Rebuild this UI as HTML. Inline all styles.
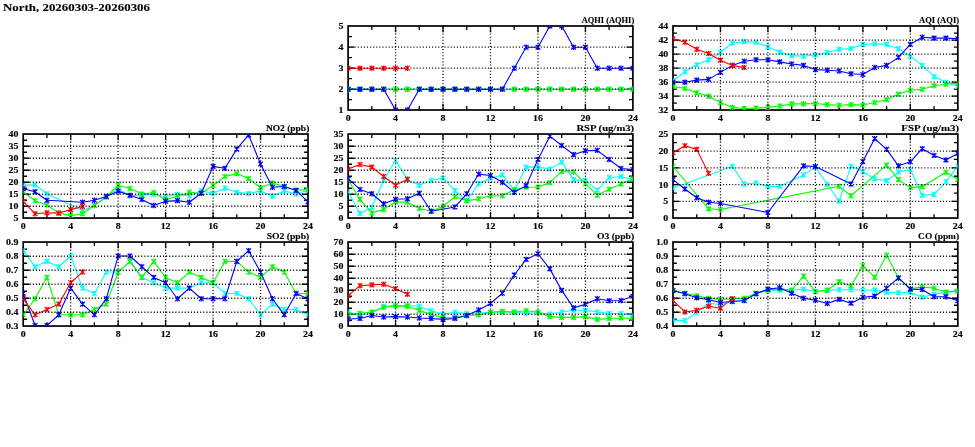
<!DOCTYPE html>
<html lang="en"><head><meta charset="utf-8"><title>North, 20260303-20260306</title>
<style>
html,body{margin:0;padding:0;background:#fff;}
body{width:975px;height:447px;overflow:hidden;}
svg{display:block;}
.tl{font-family:"Liberation Serif",serif;font-weight:bold;font-size:9.0px;fill:#000;stroke:#000;stroke-width:0.15px;letter-spacing:0px;}
.tt{font-family:"Liberation Serif",serif;font-weight:bold;font-size:9px;fill:#000;stroke:#000;stroke-width:0.12px;}
.mt{font-family:"Liberation Serif",serif;font-weight:bold;font-size:11.3px;fill:#000;stroke:#000;stroke-width:0.1px;}
.fr{fill:none;stroke:#000;stroke-width:1.7;stroke-linejoin:miter;}
.gd{fill:none;stroke:#000;stroke-width:1.3;stroke-dasharray:1.05 2.05;}
.tk{fill:none;stroke:#000;stroke-width:1.3;}
.ln{fill:none;stroke-width:1.1;stroke-linejoin:round;stroke-linecap:round;}
.mk{fill:none;stroke-width:1.25;stroke-linecap:butt;}
</style></head><body>
<svg width="975" height="447" viewBox="0 0 975 447">
<rect x="0" y="0" width="975" height="447" fill="#fff"/>
<defs>
<clipPath id="c0"><rect x="348.4" y="26.2" width="284.2" height="83.6"/></clipPath>
<clipPath id="c1"><rect x="673.3" y="26.2" width="284.2" height="83.6"/></clipPath>
<clipPath id="c2"><rect x="23.5" y="134.25" width="284.2" height="83.6"/></clipPath>
<clipPath id="c3"><rect x="348.4" y="134.25" width="284.2" height="83.6"/></clipPath>
<clipPath id="c4"><rect x="673.3" y="134.25" width="284.2" height="83.6"/></clipPath>
<clipPath id="c5"><rect x="23.5" y="242.25" width="284.2" height="83.6"/></clipPath>
<clipPath id="c6"><rect x="348.4" y="242.25" width="284.2" height="83.6"/></clipPath>
<clipPath id="c7"><rect x="673.3" y="242.25" width="284.2" height="83.6"/></clipPath>
</defs>
<text class="mt" x="3" y="10.6" textLength="147" lengthAdjust="spacingAndGlyphs">North, 20260303-20260306</text>
<g>
<path class="tk" d="M371.83 26 v3.9 M371.83 110 v-3.9 M395.57 26 v6.3 M395.57 110 v-6.3 M419.3 26 v3.9 M419.3 110 v-3.9 M443.03 26 v6.3 M443.03 110 v-6.3 M466.77 26 v3.9 M466.77 110 v-3.9 M490.5 26 v6.3 M490.5 110 v-6.3 M514.23 26 v3.9 M514.23 110 v-3.9 M537.97 26 v6.3 M537.97 110 v-6.3 M561.7 26 v3.9 M561.7 110 v-3.9 M585.43 26 v6.3 M585.43 110 v-6.3 M609.17 26 v3.9 M609.17 110 v-3.9 M348.1 99.7 h3.9 M632.9 99.7 h-3.9 M348.1 89.2 h6.3 M632.9 89.2 h-6.3 M348.1 78.7 h3.9 M632.9 78.7 h-3.9 M348.1 68.2 h6.3 M632.9 68.2 h-6.3 M348.1 57.7 h3.9 M632.9 57.7 h-3.9 M348.1 47.2 h6.3 M632.9 47.2 h-6.3 M348.1 36.7 h3.9 M632.9 36.7 h-3.9"/>
<rect class="fr" x="348.1" y="26" width="284.8" height="84"/>
<g clip-path="url(#c0)">
<polyline class="ln" stroke="#00ffff" points="348.1,89.2 359.97,89.2 371.83,89.2 383.7,89.2 395.57,89.2 407.43,89.2 419.3,89.2 431.17,89.2 443.03,89.2 454.9,89.2 466.77,89.2 478.63,89.2 490.5,89.2 502.37,89.2 514.23,89.2 526.1,89.2 537.97,89.2 549.83,89.2 561.7,89.2 573.57,89.2 585.43,89.2 597.3,89.2 609.17,89.2 621.03,89.2 632.9,89.2"/>
<path class="mk" stroke="#00ffff" d="M348.1 86.5v5.4m-2.35 -5.05l4.7 4.7m0 -4.7l-4.7 4.7M359.97 86.5v5.4m-2.35 -5.05l4.7 4.7m0 -4.7l-4.7 4.7M371.83 86.5v5.4m-2.35 -5.05l4.7 4.7m0 -4.7l-4.7 4.7M383.7 86.5v5.4m-2.35 -5.05l4.7 4.7m0 -4.7l-4.7 4.7M395.57 86.5v5.4m-2.35 -5.05l4.7 4.7m0 -4.7l-4.7 4.7M407.43 86.5v5.4m-2.35 -5.05l4.7 4.7m0 -4.7l-4.7 4.7M419.3 86.5v5.4m-2.35 -5.05l4.7 4.7m0 -4.7l-4.7 4.7M431.17 86.5v5.4m-2.35 -5.05l4.7 4.7m0 -4.7l-4.7 4.7M443.03 86.5v5.4m-2.35 -5.05l4.7 4.7m0 -4.7l-4.7 4.7M454.9 86.5v5.4m-2.35 -5.05l4.7 4.7m0 -4.7l-4.7 4.7M466.77 86.5v5.4m-2.35 -5.05l4.7 4.7m0 -4.7l-4.7 4.7M478.63 86.5v5.4m-2.35 -5.05l4.7 4.7m0 -4.7l-4.7 4.7M490.5 86.5v5.4m-2.35 -5.05l4.7 4.7m0 -4.7l-4.7 4.7M502.37 86.5v5.4m-2.35 -5.05l4.7 4.7m0 -4.7l-4.7 4.7M514.23 86.5v5.4m-2.35 -5.05l4.7 4.7m0 -4.7l-4.7 4.7M526.1 86.5v5.4m-2.35 -5.05l4.7 4.7m0 -4.7l-4.7 4.7M537.97 86.5v5.4m-2.35 -5.05l4.7 4.7m0 -4.7l-4.7 4.7M549.83 86.5v5.4m-2.35 -5.05l4.7 4.7m0 -4.7l-4.7 4.7M561.7 86.5v5.4m-2.35 -5.05l4.7 4.7m0 -4.7l-4.7 4.7M573.57 86.5v5.4m-2.35 -5.05l4.7 4.7m0 -4.7l-4.7 4.7M585.43 86.5v5.4m-2.35 -5.05l4.7 4.7m0 -4.7l-4.7 4.7M597.3 86.5v5.4m-2.35 -5.05l4.7 4.7m0 -4.7l-4.7 4.7M609.17 86.5v5.4m-2.35 -5.05l4.7 4.7m0 -4.7l-4.7 4.7M621.03 86.5v5.4m-2.35 -5.05l4.7 4.7m0 -4.7l-4.7 4.7M632.9 86.5v5.4m-2.35 -5.05l4.7 4.7m0 -4.7l-4.7 4.7"/>
<polyline class="ln" stroke="#00ff00" points="348.1,89.2 359.97,89.2 371.83,89.2 383.7,89.2 395.57,89.2 407.43,89.2 419.3,89.2 431.17,89.2 443.03,89.2 454.9,89.2 466.77,89.2 478.63,89.2 490.5,89.2 502.37,89.2 514.23,89.2 526.1,89.2 537.97,89.2 549.83,89.2 561.7,89.2 573.57,89.2 585.43,89.2 597.3,89.2 609.17,89.2 621.03,89.2 632.9,89.2"/>
<path class="mk" stroke="#00ff00" d="M348.1 86.5v5.4m-2.35 -5.05l4.7 4.7m0 -4.7l-4.7 4.7M359.97 86.5v5.4m-2.35 -5.05l4.7 4.7m0 -4.7l-4.7 4.7M371.83 86.5v5.4m-2.35 -5.05l4.7 4.7m0 -4.7l-4.7 4.7M383.7 86.5v5.4m-2.35 -5.05l4.7 4.7m0 -4.7l-4.7 4.7M395.57 86.5v5.4m-2.35 -5.05l4.7 4.7m0 -4.7l-4.7 4.7M407.43 86.5v5.4m-2.35 -5.05l4.7 4.7m0 -4.7l-4.7 4.7M419.3 86.5v5.4m-2.35 -5.05l4.7 4.7m0 -4.7l-4.7 4.7M431.17 86.5v5.4m-2.35 -5.05l4.7 4.7m0 -4.7l-4.7 4.7M443.03 86.5v5.4m-2.35 -5.05l4.7 4.7m0 -4.7l-4.7 4.7M454.9 86.5v5.4m-2.35 -5.05l4.7 4.7m0 -4.7l-4.7 4.7M466.77 86.5v5.4m-2.35 -5.05l4.7 4.7m0 -4.7l-4.7 4.7M478.63 86.5v5.4m-2.35 -5.05l4.7 4.7m0 -4.7l-4.7 4.7M490.5 86.5v5.4m-2.35 -5.05l4.7 4.7m0 -4.7l-4.7 4.7M502.37 86.5v5.4m-2.35 -5.05l4.7 4.7m0 -4.7l-4.7 4.7M514.23 86.5v5.4m-2.35 -5.05l4.7 4.7m0 -4.7l-4.7 4.7M526.1 86.5v5.4m-2.35 -5.05l4.7 4.7m0 -4.7l-4.7 4.7M537.97 86.5v5.4m-2.35 -5.05l4.7 4.7m0 -4.7l-4.7 4.7M549.83 86.5v5.4m-2.35 -5.05l4.7 4.7m0 -4.7l-4.7 4.7M561.7 86.5v5.4m-2.35 -5.05l4.7 4.7m0 -4.7l-4.7 4.7M573.57 86.5v5.4m-2.35 -5.05l4.7 4.7m0 -4.7l-4.7 4.7M585.43 86.5v5.4m-2.35 -5.05l4.7 4.7m0 -4.7l-4.7 4.7M597.3 86.5v5.4m-2.35 -5.05l4.7 4.7m0 -4.7l-4.7 4.7M609.17 86.5v5.4m-2.35 -5.05l4.7 4.7m0 -4.7l-4.7 4.7M621.03 86.5v5.4m-2.35 -5.05l4.7 4.7m0 -4.7l-4.7 4.7M632.9 86.5v5.4m-2.35 -5.05l4.7 4.7m0 -4.7l-4.7 4.7"/>
<polyline class="ln" stroke="#0000ff" points="348.1,89.2 359.97,89.2 371.83,89.2 383.7,89.2 395.57,110"/>
<polyline class="ln" stroke="#0000ff" points="407.43,110 419.3,89.2 431.17,89.2 443.03,89.2 454.9,89.2 466.77,89.2 478.63,89.2 490.5,89.2 502.37,89.2 514.23,68.2 526.1,47.2 537.97,47.2 549.83,26"/>
<polyline class="ln" stroke="#0000ff" points="561.7,26 573.57,47.2 585.43,47.2 597.3,68.2 609.17,68.2 621.03,68.2 632.9,68.2"/>
<path class="mk" stroke="#0000ff" d="M348.1 86.5v5.4m-2.35 -5.05l4.7 4.7m0 -4.7l-4.7 4.7M359.97 86.5v5.4m-2.35 -5.05l4.7 4.7m0 -4.7l-4.7 4.7M371.83 86.5v5.4m-2.35 -5.05l4.7 4.7m0 -4.7l-4.7 4.7M383.7 86.5v5.4m-2.35 -5.05l4.7 4.7m0 -4.7l-4.7 4.7M395.57 107.3v5.4m-2.35 -5.05l4.7 4.7m0 -4.7l-4.7 4.7M407.43 107.3v5.4m-2.35 -5.05l4.7 4.7m0 -4.7l-4.7 4.7M419.3 86.5v5.4m-2.35 -5.05l4.7 4.7m0 -4.7l-4.7 4.7M431.17 86.5v5.4m-2.35 -5.05l4.7 4.7m0 -4.7l-4.7 4.7M443.03 86.5v5.4m-2.35 -5.05l4.7 4.7m0 -4.7l-4.7 4.7M454.9 86.5v5.4m-2.35 -5.05l4.7 4.7m0 -4.7l-4.7 4.7M466.77 86.5v5.4m-2.35 -5.05l4.7 4.7m0 -4.7l-4.7 4.7M478.63 86.5v5.4m-2.35 -5.05l4.7 4.7m0 -4.7l-4.7 4.7M490.5 86.5v5.4m-2.35 -5.05l4.7 4.7m0 -4.7l-4.7 4.7M502.37 86.5v5.4m-2.35 -5.05l4.7 4.7m0 -4.7l-4.7 4.7M514.23 65.5v5.4m-2.35 -5.05l4.7 4.7m0 -4.7l-4.7 4.7M526.1 44.5v5.4m-2.35 -5.05l4.7 4.7m0 -4.7l-4.7 4.7M537.97 44.5v5.4m-2.35 -5.05l4.7 4.7m0 -4.7l-4.7 4.7M549.83 23.3v5.4m-2.35 -5.05l4.7 4.7m0 -4.7l-4.7 4.7M561.7 23.3v5.4m-2.35 -5.05l4.7 4.7m0 -4.7l-4.7 4.7M573.57 44.5v5.4m-2.35 -5.05l4.7 4.7m0 -4.7l-4.7 4.7M585.43 44.5v5.4m-2.35 -5.05l4.7 4.7m0 -4.7l-4.7 4.7M597.3 65.5v5.4m-2.35 -5.05l4.7 4.7m0 -4.7l-4.7 4.7M609.17 65.5v5.4m-2.35 -5.05l4.7 4.7m0 -4.7l-4.7 4.7M621.03 65.5v5.4m-2.35 -5.05l4.7 4.7m0 -4.7l-4.7 4.7M632.9 65.5v5.4m-2.35 -5.05l4.7 4.7m0 -4.7l-4.7 4.7"/>
<polyline class="ln" stroke="#ff0000" points="348.1,68.2 359.97,68.2 371.83,68.2 383.7,68.2 395.57,68.2 407.43,68.2"/>
<path class="mk" stroke="#ff0000" d="M348.1 65.5v5.4m-2.35 -5.05l4.7 4.7m0 -4.7l-4.7 4.7M359.97 65.5v5.4m-2.35 -5.05l4.7 4.7m0 -4.7l-4.7 4.7M371.83 65.5v5.4m-2.35 -5.05l4.7 4.7m0 -4.7l-4.7 4.7M383.7 65.5v5.4m-2.35 -5.05l4.7 4.7m0 -4.7l-4.7 4.7M395.57 65.5v5.4m-2.35 -5.05l4.7 4.7m0 -4.7l-4.7 4.7M407.43 65.5v5.4m-2.35 -5.05l4.7 4.7m0 -4.7l-4.7 4.7"/>
</g>
<path class="gd" stroke-dashoffset="2.8" d="M348.1 89.2 H632.9 M348.1 68.2 H632.9 M348.1 47.2 H632.9"/>
<path class="gd" stroke-dashoffset="2.075" d="M395.57 110 V26 M443.03 110 V26 M490.5 110 V26 M537.97 110 V26 M585.43 110 V26"/>
<text class="tl" text-anchor="end" transform="translate(343.4 112.95) scale(1.1 1)">1</text>
<text class="tl" text-anchor="end" transform="translate(343.4 92.15) scale(1.1 1)">2</text>
<text class="tl" text-anchor="end" transform="translate(343.4 71.15) scale(1.1 1)">3</text>
<text class="tl" text-anchor="end" transform="translate(343.4 50.15) scale(1.1 1)">4</text>
<text class="tl" text-anchor="end" transform="translate(343.4 28.95) scale(1.1 1)">5</text>
<text class="tl" text-anchor="middle" transform="translate(348.1 121.05) scale(1.1 1)">0</text>
<text class="tl" text-anchor="middle" transform="translate(395.57 121.05) scale(1.1 1)">4</text>
<text class="tl" text-anchor="middle" transform="translate(443.03 121.05) scale(1.1 1)">8</text>
<text class="tl" text-anchor="middle" transform="translate(490.5 121.05) scale(1.1 1)">12</text>
<text class="tl" text-anchor="middle" transform="translate(537.97 121.05) scale(1.1 1)">16</text>
<text class="tl" text-anchor="middle" transform="translate(585.43 121.05) scale(1.1 1)">20</text>
<text class="tl" text-anchor="middle" transform="translate(632.9 121.05) scale(1.1 1)">24</text>
<text class="tt" text-anchor="end" x="634.2" y="22.8" textLength="52.5" lengthAdjust="spacingAndGlyphs">AQHI (AQHI)</text>
</g>
<g>
<path class="tk" d="M696.73 26 v3.9 M696.73 110 v-3.9 M720.47 26 v6.3 M720.47 110 v-6.3 M744.2 26 v3.9 M744.2 110 v-3.9 M767.93 26 v6.3 M767.93 110 v-6.3 M791.67 26 v3.9 M791.67 110 v-3.9 M815.4 26 v6.3 M815.4 110 v-6.3 M839.13 26 v3.9 M839.13 110 v-3.9 M862.87 26 v6.3 M862.87 110 v-6.3 M886.6 26 v3.9 M886.6 110 v-3.9 M910.33 26 v6.3 M910.33 110 v-6.3 M934.07 26 v3.9 M934.07 110 v-3.9 M673 103.2 h3.9 M957.8 103.2 h-3.9 M673 96.2 h6.3 M957.8 96.2 h-6.3 M673 89.2 h3.9 M957.8 89.2 h-3.9 M673 82.2 h6.3 M957.8 82.2 h-6.3 M673 75.2 h3.9 M957.8 75.2 h-3.9 M673 68.2 h6.3 M957.8 68.2 h-6.3 M673 61.2 h3.9 M957.8 61.2 h-3.9 M673 54.2 h6.3 M957.8 54.2 h-6.3 M673 47.2 h3.9 M957.8 47.2 h-3.9 M673 40.2 h6.3 M957.8 40.2 h-6.3 M673 33.2 h3.9 M957.8 33.2 h-3.9"/>
<rect class="fr" x="673" y="26" width="284.8" height="84"/>
<g clip-path="url(#c1)">
<polyline class="ln" stroke="#00ffff" points="673,80.8 684.87,71.7 696.73,64.7 708.6,59.8 720.47,52.45 732.33,43 744.2,41.6 756.07,42.3 767.93,46.85 779.8,52.1 791.67,55.6 803.53,56.3 815.4,54.9 827.27,52.45 839.13,49.3 851,48.6 862.87,44.4 874.73,43.7 886.6,44.4 898.47,48.6 910.33,56.3 922.2,65.4 934.07,76.6 945.93,82.2 957.8,86.4"/>
<path class="mk" stroke="#00ffff" d="M673 78.1v5.4m-2.35 -5.05l4.7 4.7m0 -4.7l-4.7 4.7M684.87 69v5.4m-2.35 -5.05l4.7 4.7m0 -4.7l-4.7 4.7M696.73 62v5.4m-2.35 -5.05l4.7 4.7m0 -4.7l-4.7 4.7M708.6 57.1v5.4m-2.35 -5.05l4.7 4.7m0 -4.7l-4.7 4.7M720.47 49.75v5.4m-2.35 -5.05l4.7 4.7m0 -4.7l-4.7 4.7M732.33 40.3v5.4m-2.35 -5.05l4.7 4.7m0 -4.7l-4.7 4.7M744.2 38.9v5.4m-2.35 -5.05l4.7 4.7m0 -4.7l-4.7 4.7M756.07 39.6v5.4m-2.35 -5.05l4.7 4.7m0 -4.7l-4.7 4.7M767.93 44.15v5.4m-2.35 -5.05l4.7 4.7m0 -4.7l-4.7 4.7M779.8 49.4v5.4m-2.35 -5.05l4.7 4.7m0 -4.7l-4.7 4.7M791.67 52.9v5.4m-2.35 -5.05l4.7 4.7m0 -4.7l-4.7 4.7M803.53 53.6v5.4m-2.35 -5.05l4.7 4.7m0 -4.7l-4.7 4.7M815.4 52.2v5.4m-2.35 -5.05l4.7 4.7m0 -4.7l-4.7 4.7M827.27 49.75v5.4m-2.35 -5.05l4.7 4.7m0 -4.7l-4.7 4.7M839.13 46.6v5.4m-2.35 -5.05l4.7 4.7m0 -4.7l-4.7 4.7M851 45.9v5.4m-2.35 -5.05l4.7 4.7m0 -4.7l-4.7 4.7M862.87 41.7v5.4m-2.35 -5.05l4.7 4.7m0 -4.7l-4.7 4.7M874.73 41v5.4m-2.35 -5.05l4.7 4.7m0 -4.7l-4.7 4.7M886.6 41.7v5.4m-2.35 -5.05l4.7 4.7m0 -4.7l-4.7 4.7M898.47 45.9v5.4m-2.35 -5.05l4.7 4.7m0 -4.7l-4.7 4.7M910.33 53.6v5.4m-2.35 -5.05l4.7 4.7m0 -4.7l-4.7 4.7M922.2 62.7v5.4m-2.35 -5.05l4.7 4.7m0 -4.7l-4.7 4.7M934.07 73.9v5.4m-2.35 -5.05l4.7 4.7m0 -4.7l-4.7 4.7M945.93 79.5v5.4m-2.35 -5.05l4.7 4.7m0 -4.7l-4.7 4.7M957.8 83.7v5.4m-2.35 -5.05l4.7 4.7m0 -4.7l-4.7 4.7"/>
<polyline class="ln" stroke="#00ff00" points="673,86.4 684.87,88.5 696.73,92.7 708.6,96.2 720.47,102.5 732.33,107.4 744.2,108.45 756.07,108.1 767.93,107.4 779.8,106 791.67,103.9 803.53,103.9 815.4,103.55 827.27,104.6 839.13,105.3 851,104.6 862.87,104.95 874.73,102.5 886.6,99.7 898.47,94.1 910.33,90.25 922.2,89.2 934.07,85.7 945.93,84.3 957.8,83.25"/>
<path class="mk" stroke="#00ff00" d="M673 83.7v5.4m-2.35 -5.05l4.7 4.7m0 -4.7l-4.7 4.7M684.87 85.8v5.4m-2.35 -5.05l4.7 4.7m0 -4.7l-4.7 4.7M696.73 90v5.4m-2.35 -5.05l4.7 4.7m0 -4.7l-4.7 4.7M708.6 93.5v5.4m-2.35 -5.05l4.7 4.7m0 -4.7l-4.7 4.7M720.47 99.8v5.4m-2.35 -5.05l4.7 4.7m0 -4.7l-4.7 4.7M732.33 104.7v5.4m-2.35 -5.05l4.7 4.7m0 -4.7l-4.7 4.7M744.2 105.75v5.4m-2.35 -5.05l4.7 4.7m0 -4.7l-4.7 4.7M756.07 105.4v5.4m-2.35 -5.05l4.7 4.7m0 -4.7l-4.7 4.7M767.93 104.7v5.4m-2.35 -5.05l4.7 4.7m0 -4.7l-4.7 4.7M779.8 103.3v5.4m-2.35 -5.05l4.7 4.7m0 -4.7l-4.7 4.7M791.67 101.2v5.4m-2.35 -5.05l4.7 4.7m0 -4.7l-4.7 4.7M803.53 101.2v5.4m-2.35 -5.05l4.7 4.7m0 -4.7l-4.7 4.7M815.4 100.85v5.4m-2.35 -5.05l4.7 4.7m0 -4.7l-4.7 4.7M827.27 101.9v5.4m-2.35 -5.05l4.7 4.7m0 -4.7l-4.7 4.7M839.13 102.6v5.4m-2.35 -5.05l4.7 4.7m0 -4.7l-4.7 4.7M851 101.9v5.4m-2.35 -5.05l4.7 4.7m0 -4.7l-4.7 4.7M862.87 102.25v5.4m-2.35 -5.05l4.7 4.7m0 -4.7l-4.7 4.7M874.73 99.8v5.4m-2.35 -5.05l4.7 4.7m0 -4.7l-4.7 4.7M886.6 97v5.4m-2.35 -5.05l4.7 4.7m0 -4.7l-4.7 4.7M898.47 91.4v5.4m-2.35 -5.05l4.7 4.7m0 -4.7l-4.7 4.7M910.33 87.55v5.4m-2.35 -5.05l4.7 4.7m0 -4.7l-4.7 4.7M922.2 86.5v5.4m-2.35 -5.05l4.7 4.7m0 -4.7l-4.7 4.7M934.07 83v5.4m-2.35 -5.05l4.7 4.7m0 -4.7l-4.7 4.7M945.93 81.6v5.4m-2.35 -5.05l4.7 4.7m0 -4.7l-4.7 4.7M957.8 80.55v5.4m-2.35 -5.05l4.7 4.7m0 -4.7l-4.7 4.7"/>
<polyline class="ln" stroke="#0000ff" points="673,82.2 684.87,82.2 696.73,80.1 708.6,79.4 720.47,72.4 732.33,65.4 744.2,61.2 756.07,59.8 767.93,59.8 779.8,61.9 791.67,64 803.53,65.4 815.4,69.6 827.27,70.3 839.13,71 851,73.8 862.87,74.5 874.73,67.5 886.6,65.4 898.47,57.35 910.33,44.4 922.2,37.26 934.07,38.1 945.93,38.1 957.8,38.8"/>
<path class="mk" stroke="#0000ff" d="M673 79.5v5.4m-2.35 -5.05l4.7 4.7m0 -4.7l-4.7 4.7M684.87 79.5v5.4m-2.35 -5.05l4.7 4.7m0 -4.7l-4.7 4.7M696.73 77.4v5.4m-2.35 -5.05l4.7 4.7m0 -4.7l-4.7 4.7M708.6 76.7v5.4m-2.35 -5.05l4.7 4.7m0 -4.7l-4.7 4.7M720.47 69.7v5.4m-2.35 -5.05l4.7 4.7m0 -4.7l-4.7 4.7M732.33 62.7v5.4m-2.35 -5.05l4.7 4.7m0 -4.7l-4.7 4.7M744.2 58.5v5.4m-2.35 -5.05l4.7 4.7m0 -4.7l-4.7 4.7M756.07 57.1v5.4m-2.35 -5.05l4.7 4.7m0 -4.7l-4.7 4.7M767.93 57.1v5.4m-2.35 -5.05l4.7 4.7m0 -4.7l-4.7 4.7M779.8 59.2v5.4m-2.35 -5.05l4.7 4.7m0 -4.7l-4.7 4.7M791.67 61.3v5.4m-2.35 -5.05l4.7 4.7m0 -4.7l-4.7 4.7M803.53 62.7v5.4m-2.35 -5.05l4.7 4.7m0 -4.7l-4.7 4.7M815.4 66.9v5.4m-2.35 -5.05l4.7 4.7m0 -4.7l-4.7 4.7M827.27 67.6v5.4m-2.35 -5.05l4.7 4.7m0 -4.7l-4.7 4.7M839.13 68.3v5.4m-2.35 -5.05l4.7 4.7m0 -4.7l-4.7 4.7M851 71.1v5.4m-2.35 -5.05l4.7 4.7m0 -4.7l-4.7 4.7M862.87 71.8v5.4m-2.35 -5.05l4.7 4.7m0 -4.7l-4.7 4.7M874.73 64.8v5.4m-2.35 -5.05l4.7 4.7m0 -4.7l-4.7 4.7M886.6 62.7v5.4m-2.35 -5.05l4.7 4.7m0 -4.7l-4.7 4.7M898.47 54.65v5.4m-2.35 -5.05l4.7 4.7m0 -4.7l-4.7 4.7M910.33 41.7v5.4m-2.35 -5.05l4.7 4.7m0 -4.7l-4.7 4.7M922.2 34.56v5.4m-2.35 -5.05l4.7 4.7m0 -4.7l-4.7 4.7M934.07 35.4v5.4m-2.35 -5.05l4.7 4.7m0 -4.7l-4.7 4.7M945.93 35.4v5.4m-2.35 -5.05l4.7 4.7m0 -4.7l-4.7 4.7M957.8 36.1v5.4m-2.35 -5.05l4.7 4.7m0 -4.7l-4.7 4.7"/>
<polyline class="ln" stroke="#ff0000" points="673,38.8 684.87,42.3 696.73,49.3 708.6,53.5 720.47,60.15 732.33,65.4 744.2,67.5"/>
<path class="mk" stroke="#ff0000" d="M673 36.1v5.4m-2.35 -5.05l4.7 4.7m0 -4.7l-4.7 4.7M684.87 39.6v5.4m-2.35 -5.05l4.7 4.7m0 -4.7l-4.7 4.7M696.73 46.6v5.4m-2.35 -5.05l4.7 4.7m0 -4.7l-4.7 4.7M708.6 50.8v5.4m-2.35 -5.05l4.7 4.7m0 -4.7l-4.7 4.7M720.47 57.45v5.4m-2.35 -5.05l4.7 4.7m0 -4.7l-4.7 4.7M732.33 62.7v5.4m-2.35 -5.05l4.7 4.7m0 -4.7l-4.7 4.7M744.2 64.8v5.4m-2.35 -5.05l4.7 4.7m0 -4.7l-4.7 4.7"/>
</g>
<path class="gd" stroke-dashoffset="2.8" d="M673 96.2 H957.8 M673 82.2 H957.8 M673 68.2 H957.8 M673 54.2 H957.8 M673 40.2 H957.8"/>
<path class="gd" stroke-dashoffset="2.075" d="M720.47 110 V26 M767.93 110 V26 M815.4 110 V26 M862.87 110 V26 M910.33 110 V26"/>
<text class="tl" text-anchor="end" transform="translate(668.3 112.95) scale(1.1 1)">32</text>
<text class="tl" text-anchor="end" transform="translate(668.3 99.15) scale(1.1 1)">34</text>
<text class="tl" text-anchor="end" transform="translate(668.3 85.15) scale(1.1 1)">36</text>
<text class="tl" text-anchor="end" transform="translate(668.3 71.15) scale(1.1 1)">38</text>
<text class="tl" text-anchor="end" transform="translate(668.3 57.15) scale(1.1 1)">40</text>
<text class="tl" text-anchor="end" transform="translate(668.3 43.15) scale(1.1 1)">42</text>
<text class="tl" text-anchor="end" transform="translate(668.3 28.95) scale(1.1 1)">44</text>
<text class="tl" text-anchor="middle" transform="translate(673 121.05) scale(1.1 1)">0</text>
<text class="tl" text-anchor="middle" transform="translate(720.47 121.05) scale(1.1 1)">4</text>
<text class="tl" text-anchor="middle" transform="translate(767.93 121.05) scale(1.1 1)">8</text>
<text class="tl" text-anchor="middle" transform="translate(815.4 121.05) scale(1.1 1)">12</text>
<text class="tl" text-anchor="middle" transform="translate(862.87 121.05) scale(1.1 1)">16</text>
<text class="tl" text-anchor="middle" transform="translate(910.33 121.05) scale(1.1 1)">20</text>
<text class="tl" text-anchor="middle" transform="translate(957.8 121.05) scale(1.1 1)">24</text>
<text class="tt" text-anchor="end" x="959.1" y="22.8" textLength="40.1" lengthAdjust="spacingAndGlyphs">AQI (AQI)</text>
</g>
<g>
<path class="tk" d="M46.93 134.05 v3.9 M46.93 218.05 v-3.9 M70.67 134.05 v6.3 M70.67 218.05 v-6.3 M94.4 134.05 v3.9 M94.4 218.05 v-3.9 M118.13 134.05 v6.3 M118.13 218.05 v-6.3 M141.87 134.05 v3.9 M141.87 218.05 v-3.9 M165.6 134.05 v6.3 M165.6 218.05 v-6.3 M189.33 134.05 v3.9 M189.33 218.05 v-3.9 M213.07 134.05 v6.3 M213.07 218.05 v-6.3 M236.8 134.05 v3.9 M236.8 218.05 v-3.9 M260.53 134.05 v6.3 M260.53 218.05 v-6.3 M284.27 134.05 v3.9 M284.27 218.05 v-3.9 M23.2 212.25 h3.9 M308 212.25 h-3.9 M23.2 206.25 h6.3 M308 206.25 h-6.3 M23.2 200.25 h3.9 M308 200.25 h-3.9 M23.2 194.25 h6.3 M308 194.25 h-6.3 M23.2 188.25 h3.9 M308 188.25 h-3.9 M23.2 182.25 h6.3 M308 182.25 h-6.3 M23.2 176.25 h3.9 M308 176.25 h-3.9 M23.2 170.25 h6.3 M308 170.25 h-6.3 M23.2 164.25 h3.9 M308 164.25 h-3.9 M23.2 158.25 h6.3 M308 158.25 h-6.3 M23.2 152.25 h3.9 M308 152.25 h-3.9 M23.2 146.25 h6.3 M308 146.25 h-6.3 M23.2 140.25 h3.9 M308 140.25 h-3.9"/>
<rect class="fr" x="23.2" y="134.05" width="284.8" height="84"/>
<g clip-path="url(#c2)">
<polyline class="ln" stroke="#00ffff" points="23.2,185.37 35.07,184.89 46.93,193.77 82.53,210.81 94.4,205.53 106.27,197.01 118.13,188.73 130,196.05 141.87,194.61 153.73,194.49 165.6,196.53 177.47,194.37 189.33,195.81 201.2,190.89 213.07,193.29 224.93,188.25 236.8,192.33 248.67,193.53 260.53,190.89 272.4,195.93 284.27,190.89 296.13,194.01 308,190.17"/>
<path class="mk" stroke="#00ffff" d="M23.2 182.67v5.4m-2.35 -5.05l4.7 4.7m0 -4.7l-4.7 4.7M35.07 182.19v5.4m-2.35 -5.05l4.7 4.7m0 -4.7l-4.7 4.7M46.93 191.07v5.4m-2.35 -5.05l4.7 4.7m0 -4.7l-4.7 4.7M82.53 208.11v5.4m-2.35 -5.05l4.7 4.7m0 -4.7l-4.7 4.7M94.4 202.83v5.4m-2.35 -5.05l4.7 4.7m0 -4.7l-4.7 4.7M106.27 194.31v5.4m-2.35 -5.05l4.7 4.7m0 -4.7l-4.7 4.7M118.13 186.03v5.4m-2.35 -5.05l4.7 4.7m0 -4.7l-4.7 4.7M130 193.35v5.4m-2.35 -5.05l4.7 4.7m0 -4.7l-4.7 4.7M141.87 191.91v5.4m-2.35 -5.05l4.7 4.7m0 -4.7l-4.7 4.7M153.73 191.79v5.4m-2.35 -5.05l4.7 4.7m0 -4.7l-4.7 4.7M165.6 193.83v5.4m-2.35 -5.05l4.7 4.7m0 -4.7l-4.7 4.7M177.47 191.67v5.4m-2.35 -5.05l4.7 4.7m0 -4.7l-4.7 4.7M189.33 193.11v5.4m-2.35 -5.05l4.7 4.7m0 -4.7l-4.7 4.7M201.2 188.19v5.4m-2.35 -5.05l4.7 4.7m0 -4.7l-4.7 4.7M213.07 190.59v5.4m-2.35 -5.05l4.7 4.7m0 -4.7l-4.7 4.7M224.93 185.55v5.4m-2.35 -5.05l4.7 4.7m0 -4.7l-4.7 4.7M236.8 189.63v5.4m-2.35 -5.05l4.7 4.7m0 -4.7l-4.7 4.7M248.67 190.83v5.4m-2.35 -5.05l4.7 4.7m0 -4.7l-4.7 4.7M260.53 188.19v5.4m-2.35 -5.05l4.7 4.7m0 -4.7l-4.7 4.7M272.4 193.23v5.4m-2.35 -5.05l4.7 4.7m0 -4.7l-4.7 4.7M284.27 188.19v5.4m-2.35 -5.05l4.7 4.7m0 -4.7l-4.7 4.7M296.13 191.31v5.4m-2.35 -5.05l4.7 4.7m0 -4.7l-4.7 4.7M308 187.47v5.4m-2.35 -5.05l4.7 4.7m0 -4.7l-4.7 4.7"/>
<polyline class="ln" stroke="#00ff00" points="23.2,191.85 35.07,200.73 46.93,205.05 58.8,213.09 70.67,215.61 82.53,213.81 94.4,205.29 106.27,197.13 118.13,185.25 130,188.49 141.87,194.01 153.73,192.57 165.6,199.77 177.47,196.17 189.33,192.21 201.2,193.29 213.07,185.61 224.93,176.49 236.8,173.61 248.67,178.65 260.53,187.77 272.4,182.97 284.27,186.57 296.13,190.17 308,189.45"/>
<path class="mk" stroke="#00ff00" d="M23.2 189.15v5.4m-2.35 -5.05l4.7 4.7m0 -4.7l-4.7 4.7M35.07 198.03v5.4m-2.35 -5.05l4.7 4.7m0 -4.7l-4.7 4.7M46.93 202.35v5.4m-2.35 -5.05l4.7 4.7m0 -4.7l-4.7 4.7M58.8 210.39v5.4m-2.35 -5.05l4.7 4.7m0 -4.7l-4.7 4.7M70.67 212.91v5.4m-2.35 -5.05l4.7 4.7m0 -4.7l-4.7 4.7M82.53 211.11v5.4m-2.35 -5.05l4.7 4.7m0 -4.7l-4.7 4.7M94.4 202.59v5.4m-2.35 -5.05l4.7 4.7m0 -4.7l-4.7 4.7M106.27 194.43v5.4m-2.35 -5.05l4.7 4.7m0 -4.7l-4.7 4.7M118.13 182.55v5.4m-2.35 -5.05l4.7 4.7m0 -4.7l-4.7 4.7M130 185.79v5.4m-2.35 -5.05l4.7 4.7m0 -4.7l-4.7 4.7M141.87 191.31v5.4m-2.35 -5.05l4.7 4.7m0 -4.7l-4.7 4.7M153.73 189.87v5.4m-2.35 -5.05l4.7 4.7m0 -4.7l-4.7 4.7M165.6 197.07v5.4m-2.35 -5.05l4.7 4.7m0 -4.7l-4.7 4.7M177.47 193.47v5.4m-2.35 -5.05l4.7 4.7m0 -4.7l-4.7 4.7M189.33 189.51v5.4m-2.35 -5.05l4.7 4.7m0 -4.7l-4.7 4.7M201.2 190.59v5.4m-2.35 -5.05l4.7 4.7m0 -4.7l-4.7 4.7M213.07 182.91v5.4m-2.35 -5.05l4.7 4.7m0 -4.7l-4.7 4.7M224.93 173.79v5.4m-2.35 -5.05l4.7 4.7m0 -4.7l-4.7 4.7M236.8 170.91v5.4m-2.35 -5.05l4.7 4.7m0 -4.7l-4.7 4.7M248.67 175.95v5.4m-2.35 -5.05l4.7 4.7m0 -4.7l-4.7 4.7M260.53 185.07v5.4m-2.35 -5.05l4.7 4.7m0 -4.7l-4.7 4.7M272.4 180.27v5.4m-2.35 -5.05l4.7 4.7m0 -4.7l-4.7 4.7M284.27 183.87v5.4m-2.35 -5.05l4.7 4.7m0 -4.7l-4.7 4.7M296.13 187.47v5.4m-2.35 -5.05l4.7 4.7m0 -4.7l-4.7 4.7M308 186.75v5.4m-2.35 -5.05l4.7 4.7m0 -4.7l-4.7 4.7"/>
<polyline class="ln" stroke="#0000ff" points="23.2,188.73 35.07,191.73 46.93,200.25 82.53,202.29 94.4,200.25 106.27,196.41 118.13,191.13 130,195.33 141.87,199.53 153.73,205.53 165.6,201.33 177.47,200.61 189.33,202.29 201.2,193.29 213.07,166.41 224.93,168.33 236.8,149.13 248.67,134.97 260.53,164.01 272.4,187.29 284.27,186.57 296.13,190.41 308,201.93"/>
<path class="mk" stroke="#0000ff" d="M23.2 186.03v5.4m-2.35 -5.05l4.7 4.7m0 -4.7l-4.7 4.7M35.07 189.03v5.4m-2.35 -5.05l4.7 4.7m0 -4.7l-4.7 4.7M46.93 197.55v5.4m-2.35 -5.05l4.7 4.7m0 -4.7l-4.7 4.7M82.53 199.59v5.4m-2.35 -5.05l4.7 4.7m0 -4.7l-4.7 4.7M94.4 197.55v5.4m-2.35 -5.05l4.7 4.7m0 -4.7l-4.7 4.7M106.27 193.71v5.4m-2.35 -5.05l4.7 4.7m0 -4.7l-4.7 4.7M118.13 188.43v5.4m-2.35 -5.05l4.7 4.7m0 -4.7l-4.7 4.7M130 192.63v5.4m-2.35 -5.05l4.7 4.7m0 -4.7l-4.7 4.7M141.87 196.83v5.4m-2.35 -5.05l4.7 4.7m0 -4.7l-4.7 4.7M153.73 202.83v5.4m-2.35 -5.05l4.7 4.7m0 -4.7l-4.7 4.7M165.6 198.63v5.4m-2.35 -5.05l4.7 4.7m0 -4.7l-4.7 4.7M177.47 197.91v5.4m-2.35 -5.05l4.7 4.7m0 -4.7l-4.7 4.7M189.33 199.59v5.4m-2.35 -5.05l4.7 4.7m0 -4.7l-4.7 4.7M201.2 190.59v5.4m-2.35 -5.05l4.7 4.7m0 -4.7l-4.7 4.7M213.07 163.71v5.4m-2.35 -5.05l4.7 4.7m0 -4.7l-4.7 4.7M224.93 165.63v5.4m-2.35 -5.05l4.7 4.7m0 -4.7l-4.7 4.7M236.8 146.43v5.4m-2.35 -5.05l4.7 4.7m0 -4.7l-4.7 4.7M248.67 132.27v5.4m-2.35 -5.05l4.7 4.7m0 -4.7l-4.7 4.7M260.53 161.31v5.4m-2.35 -5.05l4.7 4.7m0 -4.7l-4.7 4.7M272.4 184.59v5.4m-2.35 -5.05l4.7 4.7m0 -4.7l-4.7 4.7M284.27 183.87v5.4m-2.35 -5.05l4.7 4.7m0 -4.7l-4.7 4.7M296.13 187.71v5.4m-2.35 -5.05l4.7 4.7m0 -4.7l-4.7 4.7M308 199.23v5.4m-2.35 -5.05l4.7 4.7m0 -4.7l-4.7 4.7"/>
<polyline class="ln" stroke="#ff0000" points="23.2,201.45 35.07,213.81 46.93,212.73 58.8,213.09 70.67,209.61 82.53,206.49"/>
<path class="mk" stroke="#ff0000" d="M23.2 198.75v5.4m-2.35 -5.05l4.7 4.7m0 -4.7l-4.7 4.7M35.07 211.11v5.4m-2.35 -5.05l4.7 4.7m0 -4.7l-4.7 4.7M46.93 210.03v5.4m-2.35 -5.05l4.7 4.7m0 -4.7l-4.7 4.7M58.8 210.39v5.4m-2.35 -5.05l4.7 4.7m0 -4.7l-4.7 4.7M70.67 206.91v5.4m-2.35 -5.05l4.7 4.7m0 -4.7l-4.7 4.7M82.53 203.79v5.4m-2.35 -5.05l4.7 4.7m0 -4.7l-4.7 4.7"/>
</g>
<path class="gd" stroke-dashoffset="2.8" d="M23.2 206.25 H308 M23.2 194.25 H308 M23.2 182.25 H308 M23.2 170.25 H308 M23.2 158.25 H308 M23.2 146.25 H308"/>
<path class="gd" stroke-dashoffset="2.075" d="M70.67 218.05 V134.05 M118.13 218.05 V134.05 M165.6 218.05 V134.05 M213.07 218.05 V134.05 M260.53 218.05 V134.05"/>
<text class="tl" text-anchor="end" transform="translate(18.5 221) scale(1.1 1)">5</text>
<text class="tl" text-anchor="end" transform="translate(18.5 209.2) scale(1.1 1)">10</text>
<text class="tl" text-anchor="end" transform="translate(18.5 197.2) scale(1.1 1)">15</text>
<text class="tl" text-anchor="end" transform="translate(18.5 185.2) scale(1.1 1)">20</text>
<text class="tl" text-anchor="end" transform="translate(18.5 173.2) scale(1.1 1)">25</text>
<text class="tl" text-anchor="end" transform="translate(18.5 161.2) scale(1.1 1)">30</text>
<text class="tl" text-anchor="end" transform="translate(18.5 149.2) scale(1.1 1)">35</text>
<text class="tl" text-anchor="end" transform="translate(18.5 137) scale(1.1 1)">40</text>
<text class="tl" text-anchor="middle" transform="translate(23.2 229.1) scale(1.1 1)">0</text>
<text class="tl" text-anchor="middle" transform="translate(70.67 229.1) scale(1.1 1)">4</text>
<text class="tl" text-anchor="middle" transform="translate(118.13 229.1) scale(1.1 1)">8</text>
<text class="tl" text-anchor="middle" transform="translate(165.6 229.1) scale(1.1 1)">12</text>
<text class="tl" text-anchor="middle" transform="translate(213.07 229.1) scale(1.1 1)">16</text>
<text class="tl" text-anchor="middle" transform="translate(260.53 229.1) scale(1.1 1)">20</text>
<text class="tl" text-anchor="middle" transform="translate(308 229.1) scale(1.1 1)">24</text>
<text class="tt" text-anchor="end" x="309.3" y="130.85" textLength="43.4" lengthAdjust="spacingAndGlyphs">NO2 (ppb)</text>
</g>
<g>
<path class="tk" d="M371.83 134.05 v3.9 M371.83 218.05 v-3.9 M395.57 134.05 v6.3 M395.57 218.05 v-6.3 M419.3 134.05 v3.9 M419.3 218.05 v-3.9 M443.03 134.05 v6.3 M443.03 218.05 v-6.3 M466.77 134.05 v3.9 M466.77 218.05 v-3.9 M490.5 134.05 v6.3 M490.5 218.05 v-6.3 M514.23 134.05 v3.9 M514.23 218.05 v-3.9 M537.97 134.05 v6.3 M537.97 218.05 v-6.3 M561.7 134.05 v3.9 M561.7 218.05 v-3.9 M585.43 134.05 v6.3 M585.43 218.05 v-6.3 M609.17 134.05 v3.9 M609.17 218.05 v-3.9 M348.1 212.25 h3.9 M632.9 212.25 h-3.9 M348.1 206.25 h6.3 M632.9 206.25 h-6.3 M348.1 200.25 h3.9 M632.9 200.25 h-3.9 M348.1 194.25 h6.3 M632.9 194.25 h-6.3 M348.1 188.25 h3.9 M632.9 188.25 h-3.9 M348.1 182.25 h6.3 M632.9 182.25 h-6.3 M348.1 176.25 h3.9 M632.9 176.25 h-3.9 M348.1 170.25 h6.3 M632.9 170.25 h-6.3 M348.1 164.25 h3.9 M632.9 164.25 h-3.9 M348.1 158.25 h6.3 M632.9 158.25 h-6.3 M348.1 152.25 h3.9 M632.9 152.25 h-3.9 M348.1 146.25 h6.3 M632.9 146.25 h-6.3 M348.1 140.25 h3.9 M632.9 140.25 h-3.9"/>
<rect class="fr" x="348.1" y="134.05" width="284.8" height="84"/>
<g clip-path="url(#c3)">
<polyline class="ln" stroke="#00ffff" points="348.1,191.73 359.97,213.45 371.83,207.45 383.7,180.09 395.57,160.41 407.43,179.61 419.3,185.25 431.17,180.57 443.03,177.93 454.9,190.65 466.77,200.73 478.63,183.69 490.5,178.17 502.37,174.93 514.23,190.17 526.1,167.13 537.97,167.13 549.83,169.05 561.7,161.85 573.57,179.61 585.43,180.57 597.3,190.17 609.17,177.45 621.03,176.49 632.9,179.61"/>
<path class="mk" stroke="#00ffff" d="M348.1 189.03v5.4m-2.35 -5.05l4.7 4.7m0 -4.7l-4.7 4.7M359.97 210.75v5.4m-2.35 -5.05l4.7 4.7m0 -4.7l-4.7 4.7M371.83 204.75v5.4m-2.35 -5.05l4.7 4.7m0 -4.7l-4.7 4.7M383.7 177.39v5.4m-2.35 -5.05l4.7 4.7m0 -4.7l-4.7 4.7M395.57 157.71v5.4m-2.35 -5.05l4.7 4.7m0 -4.7l-4.7 4.7M407.43 176.91v5.4m-2.35 -5.05l4.7 4.7m0 -4.7l-4.7 4.7M419.3 182.55v5.4m-2.35 -5.05l4.7 4.7m0 -4.7l-4.7 4.7M431.17 177.87v5.4m-2.35 -5.05l4.7 4.7m0 -4.7l-4.7 4.7M443.03 175.23v5.4m-2.35 -5.05l4.7 4.7m0 -4.7l-4.7 4.7M454.9 187.95v5.4m-2.35 -5.05l4.7 4.7m0 -4.7l-4.7 4.7M466.77 198.03v5.4m-2.35 -5.05l4.7 4.7m0 -4.7l-4.7 4.7M478.63 180.99v5.4m-2.35 -5.05l4.7 4.7m0 -4.7l-4.7 4.7M490.5 175.47v5.4m-2.35 -5.05l4.7 4.7m0 -4.7l-4.7 4.7M502.37 172.23v5.4m-2.35 -5.05l4.7 4.7m0 -4.7l-4.7 4.7M514.23 187.47v5.4m-2.35 -5.05l4.7 4.7m0 -4.7l-4.7 4.7M526.1 164.43v5.4m-2.35 -5.05l4.7 4.7m0 -4.7l-4.7 4.7M537.97 164.43v5.4m-2.35 -5.05l4.7 4.7m0 -4.7l-4.7 4.7M549.83 166.35v5.4m-2.35 -5.05l4.7 4.7m0 -4.7l-4.7 4.7M561.7 159.15v5.4m-2.35 -5.05l4.7 4.7m0 -4.7l-4.7 4.7M573.57 176.91v5.4m-2.35 -5.05l4.7 4.7m0 -4.7l-4.7 4.7M585.43 177.87v5.4m-2.35 -5.05l4.7 4.7m0 -4.7l-4.7 4.7M597.3 187.47v5.4m-2.35 -5.05l4.7 4.7m0 -4.7l-4.7 4.7M609.17 174.75v5.4m-2.35 -5.05l4.7 4.7m0 -4.7l-4.7 4.7M621.03 173.79v5.4m-2.35 -5.05l4.7 4.7m0 -4.7l-4.7 4.7M632.9 176.91v5.4m-2.35 -5.05l4.7 4.7m0 -4.7l-4.7 4.7"/>
<polyline class="ln" stroke="#00ff00" points="348.1,179.61 359.97,199.41 371.83,212.97 383.7,209.37 395.57,201.93 407.43,202.17 419.3,208.53 431.17,211.29 443.03,206.49 454.9,196.77 466.77,200.85 478.63,198.81 490.5,195.81 502.37,195.69 514.23,189.69 526.1,187.29 537.97,187.05 549.83,182.61 561.7,171.45 573.57,171.93 585.43,183.69 597.3,195.21 609.17,189.21 621.03,184.05 632.9,178.65"/>
<path class="mk" stroke="#00ff00" d="M348.1 176.91v5.4m-2.35 -5.05l4.7 4.7m0 -4.7l-4.7 4.7M359.97 196.71v5.4m-2.35 -5.05l4.7 4.7m0 -4.7l-4.7 4.7M371.83 210.27v5.4m-2.35 -5.05l4.7 4.7m0 -4.7l-4.7 4.7M383.7 206.67v5.4m-2.35 -5.05l4.7 4.7m0 -4.7l-4.7 4.7M395.57 199.23v5.4m-2.35 -5.05l4.7 4.7m0 -4.7l-4.7 4.7M407.43 199.47v5.4m-2.35 -5.05l4.7 4.7m0 -4.7l-4.7 4.7M419.3 205.83v5.4m-2.35 -5.05l4.7 4.7m0 -4.7l-4.7 4.7M431.17 208.59v5.4m-2.35 -5.05l4.7 4.7m0 -4.7l-4.7 4.7M443.03 203.79v5.4m-2.35 -5.05l4.7 4.7m0 -4.7l-4.7 4.7M454.9 194.07v5.4m-2.35 -5.05l4.7 4.7m0 -4.7l-4.7 4.7M466.77 198.15v5.4m-2.35 -5.05l4.7 4.7m0 -4.7l-4.7 4.7M478.63 196.11v5.4m-2.35 -5.05l4.7 4.7m0 -4.7l-4.7 4.7M490.5 193.11v5.4m-2.35 -5.05l4.7 4.7m0 -4.7l-4.7 4.7M502.37 192.99v5.4m-2.35 -5.05l4.7 4.7m0 -4.7l-4.7 4.7M514.23 186.99v5.4m-2.35 -5.05l4.7 4.7m0 -4.7l-4.7 4.7M526.1 184.59v5.4m-2.35 -5.05l4.7 4.7m0 -4.7l-4.7 4.7M537.97 184.35v5.4m-2.35 -5.05l4.7 4.7m0 -4.7l-4.7 4.7M549.83 179.91v5.4m-2.35 -5.05l4.7 4.7m0 -4.7l-4.7 4.7M561.7 168.75v5.4m-2.35 -5.05l4.7 4.7m0 -4.7l-4.7 4.7M573.57 169.23v5.4m-2.35 -5.05l4.7 4.7m0 -4.7l-4.7 4.7M585.43 180.99v5.4m-2.35 -5.05l4.7 4.7m0 -4.7l-4.7 4.7M597.3 192.51v5.4m-2.35 -5.05l4.7 4.7m0 -4.7l-4.7 4.7M609.17 186.51v5.4m-2.35 -5.05l4.7 4.7m0 -4.7l-4.7 4.7M621.03 181.35v5.4m-2.35 -5.05l4.7 4.7m0 -4.7l-4.7 4.7M632.9 175.95v5.4m-2.35 -5.05l4.7 4.7m0 -4.7l-4.7 4.7"/>
<polyline class="ln" stroke="#0000ff" points="348.1,178.65 359.97,189.45 371.83,193.77 383.7,203.73 395.57,199.29 407.43,198.81 419.3,193.29 431.17,211.29 454.9,206.97 466.77,193.77 478.63,174.09 490.5,175.53 502.37,182.25 514.23,192.33 526.1,185.61 537.97,159.45 549.83,136.17 561.7,145.53 573.57,154.65 585.43,150.81 597.3,150.33 609.17,159.45 621.03,168.45 632.9,169.53"/>
<path class="mk" stroke="#0000ff" d="M348.1 175.95v5.4m-2.35 -5.05l4.7 4.7m0 -4.7l-4.7 4.7M359.97 186.75v5.4m-2.35 -5.05l4.7 4.7m0 -4.7l-4.7 4.7M371.83 191.07v5.4m-2.35 -5.05l4.7 4.7m0 -4.7l-4.7 4.7M383.7 201.03v5.4m-2.35 -5.05l4.7 4.7m0 -4.7l-4.7 4.7M395.57 196.59v5.4m-2.35 -5.05l4.7 4.7m0 -4.7l-4.7 4.7M407.43 196.11v5.4m-2.35 -5.05l4.7 4.7m0 -4.7l-4.7 4.7M419.3 190.59v5.4m-2.35 -5.05l4.7 4.7m0 -4.7l-4.7 4.7M431.17 208.59v5.4m-2.35 -5.05l4.7 4.7m0 -4.7l-4.7 4.7M454.9 204.27v5.4m-2.35 -5.05l4.7 4.7m0 -4.7l-4.7 4.7M466.77 191.07v5.4m-2.35 -5.05l4.7 4.7m0 -4.7l-4.7 4.7M478.63 171.39v5.4m-2.35 -5.05l4.7 4.7m0 -4.7l-4.7 4.7M490.5 172.83v5.4m-2.35 -5.05l4.7 4.7m0 -4.7l-4.7 4.7M502.37 179.55v5.4m-2.35 -5.05l4.7 4.7m0 -4.7l-4.7 4.7M514.23 189.63v5.4m-2.35 -5.05l4.7 4.7m0 -4.7l-4.7 4.7M526.1 182.91v5.4m-2.35 -5.05l4.7 4.7m0 -4.7l-4.7 4.7M537.97 156.75v5.4m-2.35 -5.05l4.7 4.7m0 -4.7l-4.7 4.7M549.83 133.47v5.4m-2.35 -5.05l4.7 4.7m0 -4.7l-4.7 4.7M561.7 142.83v5.4m-2.35 -5.05l4.7 4.7m0 -4.7l-4.7 4.7M573.57 151.95v5.4m-2.35 -5.05l4.7 4.7m0 -4.7l-4.7 4.7M585.43 148.11v5.4m-2.35 -5.05l4.7 4.7m0 -4.7l-4.7 4.7M597.3 147.63v5.4m-2.35 -5.05l4.7 4.7m0 -4.7l-4.7 4.7M609.17 156.75v5.4m-2.35 -5.05l4.7 4.7m0 -4.7l-4.7 4.7M621.03 165.75v5.4m-2.35 -5.05l4.7 4.7m0 -4.7l-4.7 4.7M632.9 166.83v5.4m-2.35 -5.05l4.7 4.7m0 -4.7l-4.7 4.7"/>
<polyline class="ln" stroke="#ff0000" points="348.1,169.05 359.97,164.49 371.83,167.13 383.7,176.49 395.57,185.25 407.43,179.13"/>
<path class="mk" stroke="#ff0000" d="M348.1 166.35v5.4m-2.35 -5.05l4.7 4.7m0 -4.7l-4.7 4.7M359.97 161.79v5.4m-2.35 -5.05l4.7 4.7m0 -4.7l-4.7 4.7M371.83 164.43v5.4m-2.35 -5.05l4.7 4.7m0 -4.7l-4.7 4.7M383.7 173.79v5.4m-2.35 -5.05l4.7 4.7m0 -4.7l-4.7 4.7M395.57 182.55v5.4m-2.35 -5.05l4.7 4.7m0 -4.7l-4.7 4.7M407.43 176.43v5.4m-2.35 -5.05l4.7 4.7m0 -4.7l-4.7 4.7"/>
</g>
<path class="gd" stroke-dashoffset="2.8" d="M348.1 206.25 H632.9 M348.1 194.25 H632.9 M348.1 182.25 H632.9 M348.1 170.25 H632.9 M348.1 158.25 H632.9 M348.1 146.25 H632.9"/>
<path class="gd" stroke-dashoffset="2.075" d="M395.57 218.05 V134.05 M443.03 218.05 V134.05 M490.5 218.05 V134.05 M537.97 218.05 V134.05 M585.43 218.05 V134.05"/>
<text class="tl" text-anchor="end" transform="translate(343.4 221) scale(1.1 1)">0</text>
<text class="tl" text-anchor="end" transform="translate(343.4 209.2) scale(1.1 1)">5</text>
<text class="tl" text-anchor="end" transform="translate(343.4 197.2) scale(1.1 1)">10</text>
<text class="tl" text-anchor="end" transform="translate(343.4 185.2) scale(1.1 1)">15</text>
<text class="tl" text-anchor="end" transform="translate(343.4 173.2) scale(1.1 1)">20</text>
<text class="tl" text-anchor="end" transform="translate(343.4 161.2) scale(1.1 1)">25</text>
<text class="tl" text-anchor="end" transform="translate(343.4 149.2) scale(1.1 1)">30</text>
<text class="tl" text-anchor="end" transform="translate(343.4 137) scale(1.1 1)">35</text>
<text class="tl" text-anchor="middle" transform="translate(348.1 229.1) scale(1.1 1)">0</text>
<text class="tl" text-anchor="middle" transform="translate(395.57 229.1) scale(1.1 1)">4</text>
<text class="tl" text-anchor="middle" transform="translate(443.03 229.1) scale(1.1 1)">8</text>
<text class="tl" text-anchor="middle" transform="translate(490.5 229.1) scale(1.1 1)">12</text>
<text class="tl" text-anchor="middle" transform="translate(537.97 229.1) scale(1.1 1)">16</text>
<text class="tl" text-anchor="middle" transform="translate(585.43 229.1) scale(1.1 1)">20</text>
<text class="tl" text-anchor="middle" transform="translate(632.9 229.1) scale(1.1 1)">24</text>
<text class="tt" text-anchor="end" x="634.2" y="130.85" textLength="57.8" lengthAdjust="spacingAndGlyphs">RSP (ug/m3)</text>
</g>
<g>
<path class="tk" d="M696.73 134.05 v3.9 M696.73 218.05 v-3.9 M720.47 134.05 v6.3 M720.47 218.05 v-6.3 M744.2 134.05 v3.9 M744.2 218.05 v-3.9 M767.93 134.05 v6.3 M767.93 218.05 v-6.3 M791.67 134.05 v3.9 M791.67 218.05 v-3.9 M815.4 134.05 v6.3 M815.4 218.05 v-6.3 M839.13 134.05 v3.9 M839.13 218.05 v-3.9 M862.87 134.05 v6.3 M862.87 218.05 v-6.3 M886.6 134.05 v3.9 M886.6 218.05 v-3.9 M910.33 134.05 v6.3 M910.33 218.05 v-6.3 M934.07 134.05 v3.9 M934.07 218.05 v-3.9 M673 209.85 h3.9 M957.8 209.85 h-3.9 M673 201.45 h6.3 M957.8 201.45 h-6.3 M673 193.05 h3.9 M957.8 193.05 h-3.9 M673 184.65 h6.3 M957.8 184.65 h-6.3 M673 176.25 h3.9 M957.8 176.25 h-3.9 M673 167.85 h6.3 M957.8 167.85 h-6.3 M673 159.45 h3.9 M957.8 159.45 h-3.9 M673 151.05 h6.3 M957.8 151.05 h-6.3 M673 142.65 h3.9 M957.8 142.65 h-3.9"/>
<rect class="fr" x="673" y="134.05" width="284.8" height="84"/>
<g clip-path="url(#c4)">
<polyline class="ln" stroke="#00ffff" points="673,188.35 732.33,166.17 744.2,183.98 756.07,182.97 767.93,186.67 779.8,186.33 803.53,174.91 815.4,167.18 827.27,184.31 839.13,201.28 851,166.17 862.87,171.55 874.73,178.94 886.6,180.62 898.47,171.88 910.33,169.53 922.2,195.4 934.07,194.39 945.93,181.63 957.8,166.17"/>
<path class="mk" stroke="#00ffff" d="M673 185.65v5.4m-2.35 -5.05l4.7 4.7m0 -4.7l-4.7 4.7M732.33 163.47v5.4m-2.35 -5.05l4.7 4.7m0 -4.7l-4.7 4.7M744.2 181.28v5.4m-2.35 -5.05l4.7 4.7m0 -4.7l-4.7 4.7M756.07 180.27v5.4m-2.35 -5.05l4.7 4.7m0 -4.7l-4.7 4.7M767.93 183.97v5.4m-2.35 -5.05l4.7 4.7m0 -4.7l-4.7 4.7M779.8 183.63v5.4m-2.35 -5.05l4.7 4.7m0 -4.7l-4.7 4.7M803.53 172.21v5.4m-2.35 -5.05l4.7 4.7m0 -4.7l-4.7 4.7M815.4 164.48v5.4m-2.35 -5.05l4.7 4.7m0 -4.7l-4.7 4.7M827.27 181.61v5.4m-2.35 -5.05l4.7 4.7m0 -4.7l-4.7 4.7M839.13 198.58v5.4m-2.35 -5.05l4.7 4.7m0 -4.7l-4.7 4.7M851 163.47v5.4m-2.35 -5.05l4.7 4.7m0 -4.7l-4.7 4.7M862.87 168.85v5.4m-2.35 -5.05l4.7 4.7m0 -4.7l-4.7 4.7M874.73 176.24v5.4m-2.35 -5.05l4.7 4.7m0 -4.7l-4.7 4.7M886.6 177.92v5.4m-2.35 -5.05l4.7 4.7m0 -4.7l-4.7 4.7M898.47 169.18v5.4m-2.35 -5.05l4.7 4.7m0 -4.7l-4.7 4.7M910.33 166.83v5.4m-2.35 -5.05l4.7 4.7m0 -4.7l-4.7 4.7M922.2 192.7v5.4m-2.35 -5.05l4.7 4.7m0 -4.7l-4.7 4.7M934.07 191.69v5.4m-2.35 -5.05l4.7 4.7m0 -4.7l-4.7 4.7M945.93 178.93v5.4m-2.35 -5.05l4.7 4.7m0 -4.7l-4.7 4.7M957.8 163.47v5.4m-2.35 -5.05l4.7 4.7m0 -4.7l-4.7 4.7"/>
<polyline class="ln" stroke="#00ff00" points="673,166.51 708.6,208.84 720.47,209.51 839.13,186.33 851,195.74 886.6,165.16 898.47,179.61 910.33,187.67 922.2,186.67 945.93,172.22 957.8,179.61"/>
<path class="mk" stroke="#00ff00" d="M673 163.81v5.4m-2.35 -5.05l4.7 4.7m0 -4.7l-4.7 4.7M708.6 206.14v5.4m-2.35 -5.05l4.7 4.7m0 -4.7l-4.7 4.7M720.47 206.81v5.4m-2.35 -5.05l4.7 4.7m0 -4.7l-4.7 4.7M839.13 183.63v5.4m-2.35 -5.05l4.7 4.7m0 -4.7l-4.7 4.7M851 193.04v5.4m-2.35 -5.05l4.7 4.7m0 -4.7l-4.7 4.7M886.6 162.46v5.4m-2.35 -5.05l4.7 4.7m0 -4.7l-4.7 4.7M898.47 176.91v5.4m-2.35 -5.05l4.7 4.7m0 -4.7l-4.7 4.7M910.33 184.97v5.4m-2.35 -5.05l4.7 4.7m0 -4.7l-4.7 4.7M922.2 183.97v5.4m-2.35 -5.05l4.7 4.7m0 -4.7l-4.7 4.7M945.93 169.52v5.4m-2.35 -5.05l4.7 4.7m0 -4.7l-4.7 4.7M957.8 176.91v5.4m-2.35 -5.05l4.7 4.7m0 -4.7l-4.7 4.7"/>
<polyline class="ln" stroke="#0000ff" points="673,179.61 684.87,189.02 696.73,197.75 708.6,202.29 720.47,203.47 767.93,212.54 803.53,165.83 815.4,166.51 851,183.98 862.87,161.47 874.73,138.62 886.6,149.37 898.47,165.83 910.33,161.8 922.2,148.7 934.07,155.42 945.93,159.95 957.8,153.4"/>
<path class="mk" stroke="#0000ff" d="M673 176.91v5.4m-2.35 -5.05l4.7 4.7m0 -4.7l-4.7 4.7M684.87 186.32v5.4m-2.35 -5.05l4.7 4.7m0 -4.7l-4.7 4.7M696.73 195.05v5.4m-2.35 -5.05l4.7 4.7m0 -4.7l-4.7 4.7M708.6 199.59v5.4m-2.35 -5.05l4.7 4.7m0 -4.7l-4.7 4.7M720.47 200.77v5.4m-2.35 -5.05l4.7 4.7m0 -4.7l-4.7 4.7M767.93 209.84v5.4m-2.35 -5.05l4.7 4.7m0 -4.7l-4.7 4.7M803.53 163.13v5.4m-2.35 -5.05l4.7 4.7m0 -4.7l-4.7 4.7M815.4 163.81v5.4m-2.35 -5.05l4.7 4.7m0 -4.7l-4.7 4.7M851 181.28v5.4m-2.35 -5.05l4.7 4.7m0 -4.7l-4.7 4.7M862.87 158.77v5.4m-2.35 -5.05l4.7 4.7m0 -4.7l-4.7 4.7M874.73 135.92v5.4m-2.35 -5.05l4.7 4.7m0 -4.7l-4.7 4.7M886.6 146.67v5.4m-2.35 -5.05l4.7 4.7m0 -4.7l-4.7 4.7M898.47 163.13v5.4m-2.35 -5.05l4.7 4.7m0 -4.7l-4.7 4.7M910.33 159.1v5.4m-2.35 -5.05l4.7 4.7m0 -4.7l-4.7 4.7M922.2 146v5.4m-2.35 -5.05l4.7 4.7m0 -4.7l-4.7 4.7M934.07 152.72v5.4m-2.35 -5.05l4.7 4.7m0 -4.7l-4.7 4.7M945.93 157.25v5.4m-2.35 -5.05l4.7 4.7m0 -4.7l-4.7 4.7M957.8 150.7v5.4m-2.35 -5.05l4.7 4.7m0 -4.7l-4.7 4.7"/>
<polyline class="ln" stroke="#ff0000" points="673,152.73 684.87,145.67 696.73,149.37 708.6,173.23"/>
<path class="mk" stroke="#ff0000" d="M673 150.03v5.4m-2.35 -5.05l4.7 4.7m0 -4.7l-4.7 4.7M684.87 142.97v5.4m-2.35 -5.05l4.7 4.7m0 -4.7l-4.7 4.7M696.73 146.67v5.4m-2.35 -5.05l4.7 4.7m0 -4.7l-4.7 4.7M708.6 170.53v5.4m-2.35 -5.05l4.7 4.7m0 -4.7l-4.7 4.7"/>
</g>
<path class="gd" stroke-dashoffset="2.8" d="M673 201.45 H957.8 M673 184.65 H957.8 M673 167.85 H957.8 M673 151.05 H957.8"/>
<path class="gd" stroke-dashoffset="2.075" d="M720.47 218.05 V134.05 M767.93 218.05 V134.05 M815.4 218.05 V134.05 M862.87 218.05 V134.05 M910.33 218.05 V134.05"/>
<text class="tl" text-anchor="end" transform="translate(668.3 221) scale(1.1 1)">0</text>
<text class="tl" text-anchor="end" transform="translate(668.3 204.4) scale(1.1 1)">5</text>
<text class="tl" text-anchor="end" transform="translate(668.3 187.6) scale(1.1 1)">10</text>
<text class="tl" text-anchor="end" transform="translate(668.3 170.8) scale(1.1 1)">15</text>
<text class="tl" text-anchor="end" transform="translate(668.3 154) scale(1.1 1)">20</text>
<text class="tl" text-anchor="end" transform="translate(668.3 137) scale(1.1 1)">25</text>
<text class="tl" text-anchor="middle" transform="translate(673 229.1) scale(1.1 1)">0</text>
<text class="tl" text-anchor="middle" transform="translate(720.47 229.1) scale(1.1 1)">4</text>
<text class="tl" text-anchor="middle" transform="translate(767.93 229.1) scale(1.1 1)">8</text>
<text class="tl" text-anchor="middle" transform="translate(815.4 229.1) scale(1.1 1)">12</text>
<text class="tl" text-anchor="middle" transform="translate(862.87 229.1) scale(1.1 1)">16</text>
<text class="tl" text-anchor="middle" transform="translate(910.33 229.1) scale(1.1 1)">20</text>
<text class="tl" text-anchor="middle" transform="translate(957.8 229.1) scale(1.1 1)">24</text>
<text class="tt" text-anchor="end" x="959.1" y="130.85" textLength="57.8" lengthAdjust="spacingAndGlyphs">FSP (ug/m3)</text>
</g>
<g>
<path class="tk" d="M46.93 242.05 v3.9 M46.93 326.05 v-3.9 M70.67 242.05 v6.3 M70.67 326.05 v-6.3 M94.4 242.05 v3.9 M94.4 326.05 v-3.9 M118.13 242.05 v6.3 M118.13 326.05 v-6.3 M141.87 242.05 v3.9 M141.87 326.05 v-3.9 M165.6 242.05 v6.3 M165.6 326.05 v-6.3 M189.33 242.05 v3.9 M189.33 326.05 v-3.9 M213.07 242.05 v6.3 M213.07 326.05 v-6.3 M236.8 242.05 v3.9 M236.8 326.05 v-3.9 M260.53 242.05 v6.3 M260.53 326.05 v-6.3 M284.27 242.05 v3.9 M284.27 326.05 v-3.9 M23.2 319.25 h3.9 M308 319.25 h-3.9 M23.2 312.25 h6.3 M308 312.25 h-6.3 M23.2 305.25 h3.9 M308 305.25 h-3.9 M23.2 298.25 h6.3 M308 298.25 h-6.3 M23.2 291.25 h3.9 M308 291.25 h-3.9 M23.2 284.25 h6.3 M308 284.25 h-6.3 M23.2 277.25 h3.9 M308 277.25 h-3.9 M23.2 270.25 h6.3 M308 270.25 h-6.3 M23.2 263.25 h3.9 M308 263.25 h-3.9 M23.2 256.25 h6.3 M308 256.25 h-6.3 M23.2 249.25 h3.9 M308 249.25 h-3.9"/>
<rect class="fr" x="23.2" y="242.05" width="284.8" height="84"/>
<g clip-path="url(#c5)">
<polyline class="ln" stroke="#00ffff" points="23.2,250.69 35.07,266.72 46.93,261.37 58.8,266.72 70.67,256.03 82.53,288.09 94.4,293.44 106.27,272.06 118.13,272.06 130,261.37 141.87,277.41 153.73,282.75 165.6,288.09 177.47,288.09 189.33,288.09 201.2,282.75 213.07,282.75 224.93,293.44 236.8,293.44 248.67,298.78 260.53,314.81 272.4,304.12 284.27,309.47 296.13,309.47 308,314.81"/>
<path class="mk" stroke="#00ffff" d="M23.2 247.99v5.4m-2.35 -5.05l4.7 4.7m0 -4.7l-4.7 4.7M35.07 264.02v5.4m-2.35 -5.05l4.7 4.7m0 -4.7l-4.7 4.7M46.93 258.67v5.4m-2.35 -5.05l4.7 4.7m0 -4.7l-4.7 4.7M58.8 264.02v5.4m-2.35 -5.05l4.7 4.7m0 -4.7l-4.7 4.7M70.67 253.33v5.4m-2.35 -5.05l4.7 4.7m0 -4.7l-4.7 4.7M82.53 285.39v5.4m-2.35 -5.05l4.7 4.7m0 -4.7l-4.7 4.7M94.4 290.74v5.4m-2.35 -5.05l4.7 4.7m0 -4.7l-4.7 4.7M106.27 269.36v5.4m-2.35 -5.05l4.7 4.7m0 -4.7l-4.7 4.7M118.13 269.36v5.4m-2.35 -5.05l4.7 4.7m0 -4.7l-4.7 4.7M130 258.67v5.4m-2.35 -5.05l4.7 4.7m0 -4.7l-4.7 4.7M141.87 274.71v5.4m-2.35 -5.05l4.7 4.7m0 -4.7l-4.7 4.7M153.73 280.05v5.4m-2.35 -5.05l4.7 4.7m0 -4.7l-4.7 4.7M165.6 285.39v5.4m-2.35 -5.05l4.7 4.7m0 -4.7l-4.7 4.7M177.47 285.39v5.4m-2.35 -5.05l4.7 4.7m0 -4.7l-4.7 4.7M189.33 285.39v5.4m-2.35 -5.05l4.7 4.7m0 -4.7l-4.7 4.7M201.2 280.05v5.4m-2.35 -5.05l4.7 4.7m0 -4.7l-4.7 4.7M213.07 280.05v5.4m-2.35 -5.05l4.7 4.7m0 -4.7l-4.7 4.7M224.93 290.74v5.4m-2.35 -5.05l4.7 4.7m0 -4.7l-4.7 4.7M236.8 290.74v5.4m-2.35 -5.05l4.7 4.7m0 -4.7l-4.7 4.7M248.67 296.08v5.4m-2.35 -5.05l4.7 4.7m0 -4.7l-4.7 4.7M260.53 312.11v5.4m-2.35 -5.05l4.7 4.7m0 -4.7l-4.7 4.7M272.4 301.42v5.4m-2.35 -5.05l4.7 4.7m0 -4.7l-4.7 4.7M284.27 306.77v5.4m-2.35 -5.05l4.7 4.7m0 -4.7l-4.7 4.7M296.13 306.77v5.4m-2.35 -5.05l4.7 4.7m0 -4.7l-4.7 4.7M308 312.11v5.4m-2.35 -5.05l4.7 4.7m0 -4.7l-4.7 4.7"/>
<polyline class="ln" stroke="#00ff00" points="23.2,314.81 35.07,298.78 46.93,277.41 58.8,314.81 70.67,314.81 82.53,314.81 94.4,309.47 106.27,304.12 118.13,272.06 130,261.37 141.87,277.41 153.73,261.37 165.6,277.41 177.47,282.75 189.33,272.06 201.2,277.41 213.07,282.75 224.93,261.37 236.8,261.37 248.67,272.06 260.53,277.41 272.4,266.72 284.27,272.06 296.13,293.44 308,293.44"/>
<path class="mk" stroke="#00ff00" d="M23.2 312.11v5.4m-2.35 -5.05l4.7 4.7m0 -4.7l-4.7 4.7M35.07 296.08v5.4m-2.35 -5.05l4.7 4.7m0 -4.7l-4.7 4.7M46.93 274.71v5.4m-2.35 -5.05l4.7 4.7m0 -4.7l-4.7 4.7M58.8 312.11v5.4m-2.35 -5.05l4.7 4.7m0 -4.7l-4.7 4.7M70.67 312.11v5.4m-2.35 -5.05l4.7 4.7m0 -4.7l-4.7 4.7M82.53 312.11v5.4m-2.35 -5.05l4.7 4.7m0 -4.7l-4.7 4.7M94.4 306.77v5.4m-2.35 -5.05l4.7 4.7m0 -4.7l-4.7 4.7M106.27 301.42v5.4m-2.35 -5.05l4.7 4.7m0 -4.7l-4.7 4.7M118.13 269.36v5.4m-2.35 -5.05l4.7 4.7m0 -4.7l-4.7 4.7M130 258.67v5.4m-2.35 -5.05l4.7 4.7m0 -4.7l-4.7 4.7M141.87 274.71v5.4m-2.35 -5.05l4.7 4.7m0 -4.7l-4.7 4.7M153.73 258.67v5.4m-2.35 -5.05l4.7 4.7m0 -4.7l-4.7 4.7M165.6 274.71v5.4m-2.35 -5.05l4.7 4.7m0 -4.7l-4.7 4.7M177.47 280.05v5.4m-2.35 -5.05l4.7 4.7m0 -4.7l-4.7 4.7M189.33 269.36v5.4m-2.35 -5.05l4.7 4.7m0 -4.7l-4.7 4.7M201.2 274.71v5.4m-2.35 -5.05l4.7 4.7m0 -4.7l-4.7 4.7M213.07 280.05v5.4m-2.35 -5.05l4.7 4.7m0 -4.7l-4.7 4.7M224.93 258.67v5.4m-2.35 -5.05l4.7 4.7m0 -4.7l-4.7 4.7M236.8 258.67v5.4m-2.35 -5.05l4.7 4.7m0 -4.7l-4.7 4.7M248.67 269.36v5.4m-2.35 -5.05l4.7 4.7m0 -4.7l-4.7 4.7M260.53 274.71v5.4m-2.35 -5.05l4.7 4.7m0 -4.7l-4.7 4.7M272.4 264.02v5.4m-2.35 -5.05l4.7 4.7m0 -4.7l-4.7 4.7M284.27 269.36v5.4m-2.35 -5.05l4.7 4.7m0 -4.7l-4.7 4.7M296.13 290.74v5.4m-2.35 -5.05l4.7 4.7m0 -4.7l-4.7 4.7M308 290.74v5.4m-2.35 -5.05l4.7 4.7m0 -4.7l-4.7 4.7"/>
<polyline class="ln" stroke="#0000ff" points="23.2,293.44 35.07,325.5 46.93,325.5 58.8,314.81 70.67,288.09 82.53,304.12 94.4,314.81 106.27,298.78 118.13,256.03 130,256.03 141.87,266.72 153.73,277.41 165.6,282.75 177.47,298.78 189.33,288.09 201.2,298.78 213.07,298.78 224.93,298.78 236.8,261.37 248.67,250.69 260.53,272.06 272.4,298.78 284.27,314.81 296.13,293.44 308,298.78"/>
<path class="mk" stroke="#0000ff" d="M23.2 290.74v5.4m-2.35 -5.05l4.7 4.7m0 -4.7l-4.7 4.7M35.07 322.8v5.4m-2.35 -5.05l4.7 4.7m0 -4.7l-4.7 4.7M46.93 322.8v5.4m-2.35 -5.05l4.7 4.7m0 -4.7l-4.7 4.7M58.8 312.11v5.4m-2.35 -5.05l4.7 4.7m0 -4.7l-4.7 4.7M70.67 285.39v5.4m-2.35 -5.05l4.7 4.7m0 -4.7l-4.7 4.7M82.53 301.42v5.4m-2.35 -5.05l4.7 4.7m0 -4.7l-4.7 4.7M94.4 312.11v5.4m-2.35 -5.05l4.7 4.7m0 -4.7l-4.7 4.7M106.27 296.08v5.4m-2.35 -5.05l4.7 4.7m0 -4.7l-4.7 4.7M118.13 253.33v5.4m-2.35 -5.05l4.7 4.7m0 -4.7l-4.7 4.7M130 253.33v5.4m-2.35 -5.05l4.7 4.7m0 -4.7l-4.7 4.7M141.87 264.02v5.4m-2.35 -5.05l4.7 4.7m0 -4.7l-4.7 4.7M153.73 274.71v5.4m-2.35 -5.05l4.7 4.7m0 -4.7l-4.7 4.7M165.6 280.05v5.4m-2.35 -5.05l4.7 4.7m0 -4.7l-4.7 4.7M177.47 296.08v5.4m-2.35 -5.05l4.7 4.7m0 -4.7l-4.7 4.7M189.33 285.39v5.4m-2.35 -5.05l4.7 4.7m0 -4.7l-4.7 4.7M201.2 296.08v5.4m-2.35 -5.05l4.7 4.7m0 -4.7l-4.7 4.7M213.07 296.08v5.4m-2.35 -5.05l4.7 4.7m0 -4.7l-4.7 4.7M224.93 296.08v5.4m-2.35 -5.05l4.7 4.7m0 -4.7l-4.7 4.7M236.8 258.67v5.4m-2.35 -5.05l4.7 4.7m0 -4.7l-4.7 4.7M248.67 247.99v5.4m-2.35 -5.05l4.7 4.7m0 -4.7l-4.7 4.7M260.53 269.36v5.4m-2.35 -5.05l4.7 4.7m0 -4.7l-4.7 4.7M272.4 296.08v5.4m-2.35 -5.05l4.7 4.7m0 -4.7l-4.7 4.7M284.27 312.11v5.4m-2.35 -5.05l4.7 4.7m0 -4.7l-4.7 4.7M296.13 290.74v5.4m-2.35 -5.05l4.7 4.7m0 -4.7l-4.7 4.7M308 296.08v5.4m-2.35 -5.05l4.7 4.7m0 -4.7l-4.7 4.7"/>
<polyline class="ln" stroke="#ff0000" points="23.2,298.78 35.07,314.81 46.93,309.47 58.8,304.12 70.67,282.75 82.53,272.06"/>
<path class="mk" stroke="#ff0000" d="M23.2 296.08v5.4m-2.35 -5.05l4.7 4.7m0 -4.7l-4.7 4.7M35.07 312.11v5.4m-2.35 -5.05l4.7 4.7m0 -4.7l-4.7 4.7M46.93 306.77v5.4m-2.35 -5.05l4.7 4.7m0 -4.7l-4.7 4.7M58.8 301.42v5.4m-2.35 -5.05l4.7 4.7m0 -4.7l-4.7 4.7M70.67 280.05v5.4m-2.35 -5.05l4.7 4.7m0 -4.7l-4.7 4.7M82.53 269.36v5.4m-2.35 -5.05l4.7 4.7m0 -4.7l-4.7 4.7"/>
</g>
<path class="gd" stroke-dashoffset="2.8" d="M23.2 312.25 H308 M23.2 298.25 H308 M23.2 284.25 H308 M23.2 270.25 H308 M23.2 256.25 H308"/>
<path class="gd" stroke-dashoffset="2.075" d="M70.67 326.05 V242.05 M118.13 326.05 V242.05 M165.6 326.05 V242.05 M213.07 326.05 V242.05 M260.53 326.05 V242.05"/>
<text class="tl" text-anchor="end" transform="translate(18.5 329) scale(1.1 1)">0.3</text>
<text class="tl" text-anchor="end" transform="translate(18.5 315.2) scale(1.1 1)">0.4</text>
<text class="tl" text-anchor="end" transform="translate(18.5 301.2) scale(1.1 1)">0.5</text>
<text class="tl" text-anchor="end" transform="translate(18.5 287.2) scale(1.1 1)">0.6</text>
<text class="tl" text-anchor="end" transform="translate(18.5 273.2) scale(1.1 1)">0.7</text>
<text class="tl" text-anchor="end" transform="translate(18.5 259.2) scale(1.1 1)">0.8</text>
<text class="tl" text-anchor="end" transform="translate(18.5 245) scale(1.1 1)">0.9</text>
<text class="tl" text-anchor="middle" transform="translate(23.2 337.1) scale(1.1 1)">0</text>
<text class="tl" text-anchor="middle" transform="translate(70.67 337.1) scale(1.1 1)">4</text>
<text class="tl" text-anchor="middle" transform="translate(118.13 337.1) scale(1.1 1)">8</text>
<text class="tl" text-anchor="middle" transform="translate(165.6 337.1) scale(1.1 1)">12</text>
<text class="tl" text-anchor="middle" transform="translate(213.07 337.1) scale(1.1 1)">16</text>
<text class="tl" text-anchor="middle" transform="translate(260.53 337.1) scale(1.1 1)">20</text>
<text class="tl" text-anchor="middle" transform="translate(308 337.1) scale(1.1 1)">24</text>
<text class="tt" text-anchor="end" x="309.3" y="238.85" textLength="42.6" lengthAdjust="spacingAndGlyphs">SO2 (ppb)</text>
</g>
<g>
<path class="tk" d="M371.83 242.05 v3.9 M371.83 326.05 v-3.9 M395.57 242.05 v6.3 M395.57 326.05 v-6.3 M419.3 242.05 v3.9 M419.3 326.05 v-3.9 M443.03 242.05 v6.3 M443.03 326.05 v-6.3 M466.77 242.05 v3.9 M466.77 326.05 v-3.9 M490.5 242.05 v6.3 M490.5 326.05 v-6.3 M514.23 242.05 v3.9 M514.23 326.05 v-3.9 M537.97 242.05 v6.3 M537.97 326.05 v-6.3 M561.7 242.05 v3.9 M561.7 326.05 v-3.9 M585.43 242.05 v6.3 M585.43 326.05 v-6.3 M609.17 242.05 v3.9 M609.17 326.05 v-3.9 M348.1 320.25 h3.9 M632.9 320.25 h-3.9 M348.1 314.25 h6.3 M632.9 314.25 h-6.3 M348.1 308.25 h3.9 M632.9 308.25 h-3.9 M348.1 302.25 h6.3 M632.9 302.25 h-6.3 M348.1 296.25 h3.9 M632.9 296.25 h-3.9 M348.1 290.25 h6.3 M632.9 290.25 h-6.3 M348.1 284.25 h3.9 M632.9 284.25 h-3.9 M348.1 278.25 h6.3 M632.9 278.25 h-6.3 M348.1 272.25 h3.9 M632.9 272.25 h-3.9 M348.1 266.25 h6.3 M632.9 266.25 h-6.3 M348.1 260.25 h3.9 M632.9 260.25 h-3.9 M348.1 254.25 h6.3 M632.9 254.25 h-6.3 M348.1 248.25 h3.9 M632.9 248.25 h-3.9"/>
<rect class="fr" x="348.1" y="242.05" width="284.8" height="84"/>
<g clip-path="url(#c6)">
<polyline class="ln" stroke="#00ffff" points="348.1,311.97 359.97,314.97 371.83,313.05 383.7,306.45 395.57,305.49 407.43,305.49 419.3,306.45 431.17,310.89 443.03,314.01 454.9,312.33 466.77,313.53 478.63,313.05 490.5,312.33 502.37,311.85 514.23,311.85 526.1,313.53 537.97,312.57 549.83,314.01 561.7,311.97 573.57,310.29 585.43,310.29 597.3,311.97 609.17,313.41 621.03,313.53 632.9,315.33"/>
<path class="mk" stroke="#00ffff" d="M348.1 309.27v5.4m-2.35 -5.05l4.7 4.7m0 -4.7l-4.7 4.7M359.97 312.27v5.4m-2.35 -5.05l4.7 4.7m0 -4.7l-4.7 4.7M371.83 310.35v5.4m-2.35 -5.05l4.7 4.7m0 -4.7l-4.7 4.7M383.7 303.75v5.4m-2.35 -5.05l4.7 4.7m0 -4.7l-4.7 4.7M395.57 302.79v5.4m-2.35 -5.05l4.7 4.7m0 -4.7l-4.7 4.7M407.43 302.79v5.4m-2.35 -5.05l4.7 4.7m0 -4.7l-4.7 4.7M419.3 303.75v5.4m-2.35 -5.05l4.7 4.7m0 -4.7l-4.7 4.7M431.17 308.19v5.4m-2.35 -5.05l4.7 4.7m0 -4.7l-4.7 4.7M443.03 311.31v5.4m-2.35 -5.05l4.7 4.7m0 -4.7l-4.7 4.7M454.9 309.63v5.4m-2.35 -5.05l4.7 4.7m0 -4.7l-4.7 4.7M466.77 310.83v5.4m-2.35 -5.05l4.7 4.7m0 -4.7l-4.7 4.7M478.63 310.35v5.4m-2.35 -5.05l4.7 4.7m0 -4.7l-4.7 4.7M490.5 309.63v5.4m-2.35 -5.05l4.7 4.7m0 -4.7l-4.7 4.7M502.37 309.15v5.4m-2.35 -5.05l4.7 4.7m0 -4.7l-4.7 4.7M514.23 309.15v5.4m-2.35 -5.05l4.7 4.7m0 -4.7l-4.7 4.7M526.1 310.83v5.4m-2.35 -5.05l4.7 4.7m0 -4.7l-4.7 4.7M537.97 309.87v5.4m-2.35 -5.05l4.7 4.7m0 -4.7l-4.7 4.7M549.83 311.31v5.4m-2.35 -5.05l4.7 4.7m0 -4.7l-4.7 4.7M561.7 309.27v5.4m-2.35 -5.05l4.7 4.7m0 -4.7l-4.7 4.7M573.57 307.59v5.4m-2.35 -5.05l4.7 4.7m0 -4.7l-4.7 4.7M585.43 307.59v5.4m-2.35 -5.05l4.7 4.7m0 -4.7l-4.7 4.7M597.3 309.27v5.4m-2.35 -5.05l4.7 4.7m0 -4.7l-4.7 4.7M609.17 310.71v5.4m-2.35 -5.05l4.7 4.7m0 -4.7l-4.7 4.7M621.03 310.83v5.4m-2.35 -5.05l4.7 4.7m0 -4.7l-4.7 4.7M632.9 312.63v5.4m-2.35 -5.05l4.7 4.7m0 -4.7l-4.7 4.7"/>
<polyline class="ln" stroke="#00ff00" points="348.1,314.61 359.97,313.41 371.83,311.97 383.7,307.29 395.57,305.85 407.43,306.33 419.3,310.53 431.17,314.37 443.03,317.97 454.9,317.61 466.77,315.33 478.63,314.97 490.5,312.33 502.37,311.37 514.23,312.33 526.1,310.53 537.97,312.33 549.83,316.65 561.7,317.37 573.57,317.37 585.43,316.65 597.3,319.41 609.17,318.57 621.03,317.97 632.9,318.57"/>
<path class="mk" stroke="#00ff00" d="M348.1 311.91v5.4m-2.35 -5.05l4.7 4.7m0 -4.7l-4.7 4.7M359.97 310.71v5.4m-2.35 -5.05l4.7 4.7m0 -4.7l-4.7 4.7M371.83 309.27v5.4m-2.35 -5.05l4.7 4.7m0 -4.7l-4.7 4.7M383.7 304.59v5.4m-2.35 -5.05l4.7 4.7m0 -4.7l-4.7 4.7M395.57 303.15v5.4m-2.35 -5.05l4.7 4.7m0 -4.7l-4.7 4.7M407.43 303.63v5.4m-2.35 -5.05l4.7 4.7m0 -4.7l-4.7 4.7M419.3 307.83v5.4m-2.35 -5.05l4.7 4.7m0 -4.7l-4.7 4.7M431.17 311.67v5.4m-2.35 -5.05l4.7 4.7m0 -4.7l-4.7 4.7M443.03 315.27v5.4m-2.35 -5.05l4.7 4.7m0 -4.7l-4.7 4.7M454.9 314.91v5.4m-2.35 -5.05l4.7 4.7m0 -4.7l-4.7 4.7M466.77 312.63v5.4m-2.35 -5.05l4.7 4.7m0 -4.7l-4.7 4.7M478.63 312.27v5.4m-2.35 -5.05l4.7 4.7m0 -4.7l-4.7 4.7M490.5 309.63v5.4m-2.35 -5.05l4.7 4.7m0 -4.7l-4.7 4.7M502.37 308.67v5.4m-2.35 -5.05l4.7 4.7m0 -4.7l-4.7 4.7M514.23 309.63v5.4m-2.35 -5.05l4.7 4.7m0 -4.7l-4.7 4.7M526.1 307.83v5.4m-2.35 -5.05l4.7 4.7m0 -4.7l-4.7 4.7M537.97 309.63v5.4m-2.35 -5.05l4.7 4.7m0 -4.7l-4.7 4.7M549.83 313.95v5.4m-2.35 -5.05l4.7 4.7m0 -4.7l-4.7 4.7M561.7 314.67v5.4m-2.35 -5.05l4.7 4.7m0 -4.7l-4.7 4.7M573.57 314.67v5.4m-2.35 -5.05l4.7 4.7m0 -4.7l-4.7 4.7M585.43 313.95v5.4m-2.35 -5.05l4.7 4.7m0 -4.7l-4.7 4.7M597.3 316.71v5.4m-2.35 -5.05l4.7 4.7m0 -4.7l-4.7 4.7M609.17 315.87v5.4m-2.35 -5.05l4.7 4.7m0 -4.7l-4.7 4.7M621.03 315.27v5.4m-2.35 -5.05l4.7 4.7m0 -4.7l-4.7 4.7M632.9 315.87v5.4m-2.35 -5.05l4.7 4.7m0 -4.7l-4.7 4.7"/>
<polyline class="ln" stroke="#0000ff" points="348.1,319.05 359.97,318.57 371.83,315.57 383.7,317.01 395.57,316.65 407.43,317.01 419.3,317.97 431.17,318.57 443.03,319.41 454.9,318.45 466.77,315.57 478.63,309.93 490.5,303.45 502.37,293.25 514.23,275.01 526.1,259.41 537.97,253.77 549.83,268.89 561.7,290.37 573.57,307.89 585.43,304.29 597.3,298.77 609.17,300.81 621.03,300.45 632.9,296.25"/>
<path class="mk" stroke="#0000ff" d="M348.1 316.35v5.4m-2.35 -5.05l4.7 4.7m0 -4.7l-4.7 4.7M359.97 315.87v5.4m-2.35 -5.05l4.7 4.7m0 -4.7l-4.7 4.7M371.83 312.87v5.4m-2.35 -5.05l4.7 4.7m0 -4.7l-4.7 4.7M383.7 314.31v5.4m-2.35 -5.05l4.7 4.7m0 -4.7l-4.7 4.7M395.57 313.95v5.4m-2.35 -5.05l4.7 4.7m0 -4.7l-4.7 4.7M407.43 314.31v5.4m-2.35 -5.05l4.7 4.7m0 -4.7l-4.7 4.7M419.3 315.27v5.4m-2.35 -5.05l4.7 4.7m0 -4.7l-4.7 4.7M431.17 315.87v5.4m-2.35 -5.05l4.7 4.7m0 -4.7l-4.7 4.7M443.03 316.71v5.4m-2.35 -5.05l4.7 4.7m0 -4.7l-4.7 4.7M454.9 315.75v5.4m-2.35 -5.05l4.7 4.7m0 -4.7l-4.7 4.7M466.77 312.87v5.4m-2.35 -5.05l4.7 4.7m0 -4.7l-4.7 4.7M478.63 307.23v5.4m-2.35 -5.05l4.7 4.7m0 -4.7l-4.7 4.7M490.5 300.75v5.4m-2.35 -5.05l4.7 4.7m0 -4.7l-4.7 4.7M502.37 290.55v5.4m-2.35 -5.05l4.7 4.7m0 -4.7l-4.7 4.7M514.23 272.31v5.4m-2.35 -5.05l4.7 4.7m0 -4.7l-4.7 4.7M526.1 256.71v5.4m-2.35 -5.05l4.7 4.7m0 -4.7l-4.7 4.7M537.97 251.07v5.4m-2.35 -5.05l4.7 4.7m0 -4.7l-4.7 4.7M549.83 266.19v5.4m-2.35 -5.05l4.7 4.7m0 -4.7l-4.7 4.7M561.7 287.67v5.4m-2.35 -5.05l4.7 4.7m0 -4.7l-4.7 4.7M573.57 305.19v5.4m-2.35 -5.05l4.7 4.7m0 -4.7l-4.7 4.7M585.43 301.59v5.4m-2.35 -5.05l4.7 4.7m0 -4.7l-4.7 4.7M597.3 296.07v5.4m-2.35 -5.05l4.7 4.7m0 -4.7l-4.7 4.7M609.17 298.11v5.4m-2.35 -5.05l4.7 4.7m0 -4.7l-4.7 4.7M621.03 297.75v5.4m-2.35 -5.05l4.7 4.7m0 -4.7l-4.7 4.7M632.9 293.55v5.4m-2.35 -5.05l4.7 4.7m0 -4.7l-4.7 4.7"/>
<polyline class="ln" stroke="#ff0000" points="348.1,295.77 359.97,285.69 371.83,284.85 383.7,284.25 395.57,288.69 407.43,294.21"/>
<path class="mk" stroke="#ff0000" d="M348.1 293.07v5.4m-2.35 -5.05l4.7 4.7m0 -4.7l-4.7 4.7M359.97 282.99v5.4m-2.35 -5.05l4.7 4.7m0 -4.7l-4.7 4.7M371.83 282.15v5.4m-2.35 -5.05l4.7 4.7m0 -4.7l-4.7 4.7M383.7 281.55v5.4m-2.35 -5.05l4.7 4.7m0 -4.7l-4.7 4.7M395.57 285.99v5.4m-2.35 -5.05l4.7 4.7m0 -4.7l-4.7 4.7M407.43 291.51v5.4m-2.35 -5.05l4.7 4.7m0 -4.7l-4.7 4.7"/>
</g>
<path class="gd" stroke-dashoffset="2.8" d="M348.1 314.25 H632.9 M348.1 302.25 H632.9 M348.1 290.25 H632.9 M348.1 278.25 H632.9 M348.1 266.25 H632.9 M348.1 254.25 H632.9"/>
<path class="gd" stroke-dashoffset="2.075" d="M395.57 326.05 V242.05 M443.03 326.05 V242.05 M490.5 326.05 V242.05 M537.97 326.05 V242.05 M585.43 326.05 V242.05"/>
<text class="tl" text-anchor="end" transform="translate(343.4 329) scale(1.1 1)">0</text>
<text class="tl" text-anchor="end" transform="translate(343.4 317.2) scale(1.1 1)">10</text>
<text class="tl" text-anchor="end" transform="translate(343.4 305.2) scale(1.1 1)">20</text>
<text class="tl" text-anchor="end" transform="translate(343.4 293.2) scale(1.1 1)">30</text>
<text class="tl" text-anchor="end" transform="translate(343.4 281.2) scale(1.1 1)">40</text>
<text class="tl" text-anchor="end" transform="translate(343.4 269.2) scale(1.1 1)">50</text>
<text class="tl" text-anchor="end" transform="translate(343.4 257.2) scale(1.1 1)">60</text>
<text class="tl" text-anchor="end" transform="translate(343.4 245) scale(1.1 1)">70</text>
<text class="tl" text-anchor="middle" transform="translate(348.1 337.1) scale(1.1 1)">0</text>
<text class="tl" text-anchor="middle" transform="translate(395.57 337.1) scale(1.1 1)">4</text>
<text class="tl" text-anchor="middle" transform="translate(443.03 337.1) scale(1.1 1)">8</text>
<text class="tl" text-anchor="middle" transform="translate(490.5 337.1) scale(1.1 1)">12</text>
<text class="tl" text-anchor="middle" transform="translate(537.97 337.1) scale(1.1 1)">16</text>
<text class="tl" text-anchor="middle" transform="translate(585.43 337.1) scale(1.1 1)">20</text>
<text class="tl" text-anchor="middle" transform="translate(632.9 337.1) scale(1.1 1)">24</text>
<text class="tt" text-anchor="end" x="634.2" y="238.85" textLength="37.3" lengthAdjust="spacingAndGlyphs">O3 (ppb)</text>
</g>
<g>
<path class="tk" d="M696.73 242.05 v3.9 M696.73 326.05 v-3.9 M720.47 242.05 v6.3 M720.47 326.05 v-6.3 M744.2 242.05 v3.9 M744.2 326.05 v-3.9 M767.93 242.05 v6.3 M767.93 326.05 v-6.3 M791.67 242.05 v3.9 M791.67 326.05 v-3.9 M815.4 242.05 v6.3 M815.4 326.05 v-6.3 M839.13 242.05 v3.9 M839.13 326.05 v-3.9 M862.87 242.05 v6.3 M862.87 326.05 v-6.3 M886.6 242.05 v3.9 M886.6 326.05 v-3.9 M910.33 242.05 v6.3 M910.33 326.05 v-6.3 M934.07 242.05 v3.9 M934.07 326.05 v-3.9 M673 319.25 h3.9 M957.8 319.25 h-3.9 M673 312.25 h6.3 M957.8 312.25 h-6.3 M673 305.25 h3.9 M957.8 305.25 h-3.9 M673 298.25 h6.3 M957.8 298.25 h-6.3 M673 291.25 h3.9 M957.8 291.25 h-3.9 M673 284.25 h6.3 M957.8 284.25 h-6.3 M673 277.25 h3.9 M957.8 277.25 h-3.9 M673 270.25 h6.3 M957.8 270.25 h-6.3 M673 263.25 h3.9 M957.8 263.25 h-3.9 M673 256.25 h6.3 M957.8 256.25 h-6.3 M673 249.25 h3.9 M957.8 249.25 h-3.9"/>
<rect class="fr" x="673" y="242.05" width="284.8" height="84"/>
<g clip-path="url(#c7)">
<polyline class="ln" stroke="#00ffff" points="673,320.09 684.87,320.65 696.73,312.53 708.6,303.29 720.47,304.55 732.33,301.47 744.2,300.49 756.07,293.77 767.93,290.27 779.8,290.27 791.67,290.27 803.53,289.15 815.4,291.25 827.27,290.27 839.13,289.71 851,289.71 862.87,289.99 874.73,290.13 886.6,292.37 898.47,292.79 910.33,292.37 922.2,297.2 934.07,294.33 945.93,292.37 957.8,291.25"/>
<path class="mk" stroke="#00ffff" d="M673 317.39v5.4m-2.35 -5.05l4.7 4.7m0 -4.7l-4.7 4.7M684.87 317.95v5.4m-2.35 -5.05l4.7 4.7m0 -4.7l-4.7 4.7M696.73 309.83v5.4m-2.35 -5.05l4.7 4.7m0 -4.7l-4.7 4.7M708.6 300.59v5.4m-2.35 -5.05l4.7 4.7m0 -4.7l-4.7 4.7M720.47 301.85v5.4m-2.35 -5.05l4.7 4.7m0 -4.7l-4.7 4.7M732.33 298.77v5.4m-2.35 -5.05l4.7 4.7m0 -4.7l-4.7 4.7M744.2 297.79v5.4m-2.35 -5.05l4.7 4.7m0 -4.7l-4.7 4.7M756.07 291.07v5.4m-2.35 -5.05l4.7 4.7m0 -4.7l-4.7 4.7M767.93 287.57v5.4m-2.35 -5.05l4.7 4.7m0 -4.7l-4.7 4.7M779.8 287.57v5.4m-2.35 -5.05l4.7 4.7m0 -4.7l-4.7 4.7M791.67 287.57v5.4m-2.35 -5.05l4.7 4.7m0 -4.7l-4.7 4.7M803.53 286.45v5.4m-2.35 -5.05l4.7 4.7m0 -4.7l-4.7 4.7M815.4 288.55v5.4m-2.35 -5.05l4.7 4.7m0 -4.7l-4.7 4.7M827.27 287.57v5.4m-2.35 -5.05l4.7 4.7m0 -4.7l-4.7 4.7M839.13 287.01v5.4m-2.35 -5.05l4.7 4.7m0 -4.7l-4.7 4.7M851 287.01v5.4m-2.35 -5.05l4.7 4.7m0 -4.7l-4.7 4.7M862.87 287.29v5.4m-2.35 -5.05l4.7 4.7m0 -4.7l-4.7 4.7M874.73 287.43v5.4m-2.35 -5.05l4.7 4.7m0 -4.7l-4.7 4.7M886.6 289.67v5.4m-2.35 -5.05l4.7 4.7m0 -4.7l-4.7 4.7M898.47 290.09v5.4m-2.35 -5.05l4.7 4.7m0 -4.7l-4.7 4.7M910.33 289.67v5.4m-2.35 -5.05l4.7 4.7m0 -4.7l-4.7 4.7M922.2 294.5v5.4m-2.35 -5.05l4.7 4.7m0 -4.7l-4.7 4.7M934.07 291.63v5.4m-2.35 -5.05l4.7 4.7m0 -4.7l-4.7 4.7M945.93 289.67v5.4m-2.35 -5.05l4.7 4.7m0 -4.7l-4.7 4.7M957.8 288.55v5.4m-2.35 -5.05l4.7 4.7m0 -4.7l-4.7 4.7"/>
<polyline class="ln" stroke="#00ff00" points="673,290.27 684.87,293.21 696.73,295.73 708.6,298.39 720.47,299.37 732.33,298.81 744.2,298.25 756.07,293.21 767.93,290.13 779.8,288.87 791.67,290.27 803.53,276.13 815.4,291.81 827.27,290.27 839.13,281.59 851,286.07 862.87,265.63 874.73,277.39 886.6,255.27 898.47,278.09 910.33,288.59 922.2,287.05 934.07,288.17 945.93,292.09 957.8,290.97"/>
<path class="mk" stroke="#00ff00" d="M673 287.57v5.4m-2.35 -5.05l4.7 4.7m0 -4.7l-4.7 4.7M684.87 290.51v5.4m-2.35 -5.05l4.7 4.7m0 -4.7l-4.7 4.7M696.73 293.03v5.4m-2.35 -5.05l4.7 4.7m0 -4.7l-4.7 4.7M708.6 295.69v5.4m-2.35 -5.05l4.7 4.7m0 -4.7l-4.7 4.7M720.47 296.67v5.4m-2.35 -5.05l4.7 4.7m0 -4.7l-4.7 4.7M732.33 296.11v5.4m-2.35 -5.05l4.7 4.7m0 -4.7l-4.7 4.7M744.2 295.55v5.4m-2.35 -5.05l4.7 4.7m0 -4.7l-4.7 4.7M756.07 290.51v5.4m-2.35 -5.05l4.7 4.7m0 -4.7l-4.7 4.7M767.93 287.43v5.4m-2.35 -5.05l4.7 4.7m0 -4.7l-4.7 4.7M779.8 286.17v5.4m-2.35 -5.05l4.7 4.7m0 -4.7l-4.7 4.7M791.67 287.57v5.4m-2.35 -5.05l4.7 4.7m0 -4.7l-4.7 4.7M803.53 273.43v5.4m-2.35 -5.05l4.7 4.7m0 -4.7l-4.7 4.7M815.4 289.11v5.4m-2.35 -5.05l4.7 4.7m0 -4.7l-4.7 4.7M827.27 287.57v5.4m-2.35 -5.05l4.7 4.7m0 -4.7l-4.7 4.7M839.13 278.89v5.4m-2.35 -5.05l4.7 4.7m0 -4.7l-4.7 4.7M851 283.37v5.4m-2.35 -5.05l4.7 4.7m0 -4.7l-4.7 4.7M862.87 262.93v5.4m-2.35 -5.05l4.7 4.7m0 -4.7l-4.7 4.7M874.73 274.69v5.4m-2.35 -5.05l4.7 4.7m0 -4.7l-4.7 4.7M886.6 252.57v5.4m-2.35 -5.05l4.7 4.7m0 -4.7l-4.7 4.7M898.47 275.39v5.4m-2.35 -5.05l4.7 4.7m0 -4.7l-4.7 4.7M910.33 285.89v5.4m-2.35 -5.05l4.7 4.7m0 -4.7l-4.7 4.7M922.2 284.35v5.4m-2.35 -5.05l4.7 4.7m0 -4.7l-4.7 4.7M934.07 285.47v5.4m-2.35 -5.05l4.7 4.7m0 -4.7l-4.7 4.7M945.93 289.39v5.4m-2.35 -5.05l4.7 4.7m0 -4.7l-4.7 4.7M957.8 288.27v5.4m-2.35 -5.05l4.7 4.7m0 -4.7l-4.7 4.7"/>
<polyline class="ln" stroke="#0000ff" points="673,290.69 684.87,293.77 696.73,297.83 708.6,299.79 720.47,302.45 732.33,301.47 744.2,300.49 756.07,293.77 767.93,289.15 779.8,287.75 791.67,293.21 803.53,298.25 815.4,300.21 827.27,303.43 839.13,299.37 851,303.15 862.87,297.27 874.73,296.15 886.6,288.17 898.47,277.95 910.33,289.15 922.2,289.57 934.07,296.71 945.93,296.71 957.8,300.77"/>
<path class="mk" stroke="#0000ff" d="M673 287.99v5.4m-2.35 -5.05l4.7 4.7m0 -4.7l-4.7 4.7M684.87 291.07v5.4m-2.35 -5.05l4.7 4.7m0 -4.7l-4.7 4.7M696.73 295.13v5.4m-2.35 -5.05l4.7 4.7m0 -4.7l-4.7 4.7M708.6 297.09v5.4m-2.35 -5.05l4.7 4.7m0 -4.7l-4.7 4.7M720.47 299.75v5.4m-2.35 -5.05l4.7 4.7m0 -4.7l-4.7 4.7M732.33 298.77v5.4m-2.35 -5.05l4.7 4.7m0 -4.7l-4.7 4.7M744.2 297.79v5.4m-2.35 -5.05l4.7 4.7m0 -4.7l-4.7 4.7M756.07 291.07v5.4m-2.35 -5.05l4.7 4.7m0 -4.7l-4.7 4.7M767.93 286.45v5.4m-2.35 -5.05l4.7 4.7m0 -4.7l-4.7 4.7M779.8 285.05v5.4m-2.35 -5.05l4.7 4.7m0 -4.7l-4.7 4.7M791.67 290.51v5.4m-2.35 -5.05l4.7 4.7m0 -4.7l-4.7 4.7M803.53 295.55v5.4m-2.35 -5.05l4.7 4.7m0 -4.7l-4.7 4.7M815.4 297.51v5.4m-2.35 -5.05l4.7 4.7m0 -4.7l-4.7 4.7M827.27 300.73v5.4m-2.35 -5.05l4.7 4.7m0 -4.7l-4.7 4.7M839.13 296.67v5.4m-2.35 -5.05l4.7 4.7m0 -4.7l-4.7 4.7M851 300.45v5.4m-2.35 -5.05l4.7 4.7m0 -4.7l-4.7 4.7M862.87 294.57v5.4m-2.35 -5.05l4.7 4.7m0 -4.7l-4.7 4.7M874.73 293.45v5.4m-2.35 -5.05l4.7 4.7m0 -4.7l-4.7 4.7M886.6 285.47v5.4m-2.35 -5.05l4.7 4.7m0 -4.7l-4.7 4.7M898.47 275.25v5.4m-2.35 -5.05l4.7 4.7m0 -4.7l-4.7 4.7M910.33 286.45v5.4m-2.35 -5.05l4.7 4.7m0 -4.7l-4.7 4.7M922.2 286.87v5.4m-2.35 -5.05l4.7 4.7m0 -4.7l-4.7 4.7M934.07 294.01v5.4m-2.35 -5.05l4.7 4.7m0 -4.7l-4.7 4.7M945.93 294.01v5.4m-2.35 -5.05l4.7 4.7m0 -4.7l-4.7 4.7M957.8 298.07v5.4m-2.35 -5.05l4.7 4.7m0 -4.7l-4.7 4.7"/>
<polyline class="ln" stroke="#ff0000" points="673,300.49 684.87,311.97 696.73,310.29 708.6,306.3 720.47,308.19 732.33,298.67"/>
<path class="mk" stroke="#ff0000" d="M673 297.79v5.4m-2.35 -5.05l4.7 4.7m0 -4.7l-4.7 4.7M684.87 309.27v5.4m-2.35 -5.05l4.7 4.7m0 -4.7l-4.7 4.7M696.73 307.59v5.4m-2.35 -5.05l4.7 4.7m0 -4.7l-4.7 4.7M708.6 303.6v5.4m-2.35 -5.05l4.7 4.7m0 -4.7l-4.7 4.7M720.47 305.49v5.4m-2.35 -5.05l4.7 4.7m0 -4.7l-4.7 4.7M732.33 295.97v5.4m-2.35 -5.05l4.7 4.7m0 -4.7l-4.7 4.7"/>
</g>
<path class="gd" stroke-dashoffset="2.8" d="M673 312.25 H957.8 M673 298.25 H957.8 M673 284.25 H957.8 M673 270.25 H957.8 M673 256.25 H957.8"/>
<path class="gd" stroke-dashoffset="2.075" d="M720.47 326.05 V242.05 M767.93 326.05 V242.05 M815.4 326.05 V242.05 M862.87 326.05 V242.05 M910.33 326.05 V242.05"/>
<text class="tl" text-anchor="end" transform="translate(668.3 329) scale(1.1 1)">0.4</text>
<text class="tl" text-anchor="end" transform="translate(668.3 315.2) scale(1.1 1)">0.5</text>
<text class="tl" text-anchor="end" transform="translate(668.3 301.2) scale(1.1 1)">0.6</text>
<text class="tl" text-anchor="end" transform="translate(668.3 287.2) scale(1.1 1)">0.7</text>
<text class="tl" text-anchor="end" transform="translate(668.3 273.2) scale(1.1 1)">0.8</text>
<text class="tl" text-anchor="end" transform="translate(668.3 259.2) scale(1.1 1)">0.9</text>
<text class="tl" text-anchor="end" transform="translate(668.3 245) scale(1.1 1)">1.0</text>
<text class="tl" text-anchor="middle" transform="translate(673 337.1) scale(1.1 1)">0</text>
<text class="tl" text-anchor="middle" transform="translate(720.47 337.1) scale(1.1 1)">4</text>
<text class="tl" text-anchor="middle" transform="translate(767.93 337.1) scale(1.1 1)">8</text>
<text class="tl" text-anchor="middle" transform="translate(815.4 337.1) scale(1.1 1)">12</text>
<text class="tl" text-anchor="middle" transform="translate(862.87 337.1) scale(1.1 1)">16</text>
<text class="tl" text-anchor="middle" transform="translate(910.33 337.1) scale(1.1 1)">20</text>
<text class="tl" text-anchor="middle" transform="translate(957.8 337.1) scale(1.1 1)">24</text>
<text class="tt" text-anchor="end" x="959.1" y="238.85" textLength="41" lengthAdjust="spacingAndGlyphs">CO (ppm)</text>
</g>
</svg>
</body></html>
